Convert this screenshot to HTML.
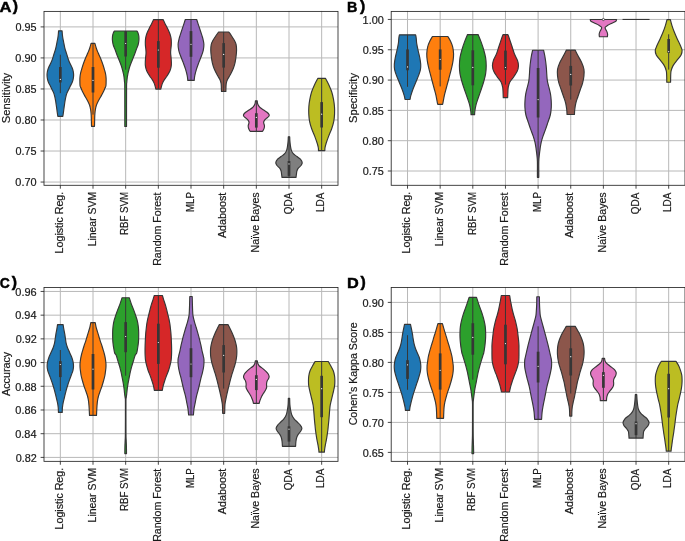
<!DOCTYPE html>
<html><head><meta charset="utf-8"><style>
html,body{margin:0;padding:0;background:#fff;overflow:hidden;}
svg{display:block;will-change:transform;}
text{font-family:"Liberation Sans", sans-serif;}
</style></head><body>
<svg width="685" height="541" viewBox="0 0 685 541">
<rect width="685" height="541" fill="#fff"/>
<line x1="44.0" y1="182.05" x2="338.0" y2="182.05" stroke="#b8b8b8" stroke-width="1.0"/>
<line x1="44.0" y1="151.02" x2="338.0" y2="151.02" stroke="#b8b8b8" stroke-width="1.0"/>
<line x1="44.0" y1="119.99" x2="338.0" y2="119.99" stroke="#b8b8b8" stroke-width="1.0"/>
<line x1="44.0" y1="88.96" x2="338.0" y2="88.96" stroke="#b8b8b8" stroke-width="1.0"/>
<line x1="44.0" y1="57.93" x2="338.0" y2="57.93" stroke="#b8b8b8" stroke-width="1.0"/>
<line x1="44.0" y1="26.90" x2="338.0" y2="26.90" stroke="#b8b8b8" stroke-width="1.0"/>
<line x1="60.33" y1="10.9" x2="60.33" y2="185.8" stroke="#b8b8b8" stroke-width="1.0"/>
<line x1="93.00" y1="10.9" x2="93.00" y2="185.8" stroke="#b8b8b8" stroke-width="1.0"/>
<line x1="125.67" y1="10.9" x2="125.67" y2="185.8" stroke="#b8b8b8" stroke-width="1.0"/>
<line x1="158.33" y1="10.9" x2="158.33" y2="185.8" stroke="#b8b8b8" stroke-width="1.0"/>
<line x1="191.00" y1="10.9" x2="191.00" y2="185.8" stroke="#b8b8b8" stroke-width="1.0"/>
<line x1="223.67" y1="10.9" x2="223.67" y2="185.8" stroke="#b8b8b8" stroke-width="1.0"/>
<line x1="256.33" y1="10.9" x2="256.33" y2="185.8" stroke="#b8b8b8" stroke-width="1.0"/>
<line x1="289.00" y1="10.9" x2="289.00" y2="185.8" stroke="#b8b8b8" stroke-width="1.0"/>
<line x1="321.67" y1="10.9" x2="321.67" y2="185.8" stroke="#b8b8b8" stroke-width="1.0"/>
<path d="M62.08,30.80 C62.14,31.50 62.29,33.72 62.43,35.00 C62.57,36.28 62.73,37.33 62.93,38.50 C63.13,39.67 63.40,40.82 63.63,42.00 C63.87,43.18 64.08,44.42 64.33,45.60 C64.58,46.78 64.82,47.93 65.13,49.10 C65.45,50.27 65.87,51.43 66.23,52.60 C66.60,53.77 66.97,54.93 67.33,56.10 C67.70,57.27 68.02,58.43 68.43,59.60 C68.85,60.77 69.22,61.75 69.83,63.10 C70.45,64.45 71.57,66.32 72.13,67.70 C72.70,69.08 72.98,70.17 73.23,71.40 C73.48,72.63 73.63,73.87 73.63,75.10 C73.63,76.33 73.48,77.57 73.23,78.80 C72.98,80.03 72.63,81.27 72.13,82.50 C71.63,83.73 70.85,84.97 70.23,86.20 C69.62,87.43 69.02,88.67 68.43,89.90 C67.85,91.13 67.18,92.37 66.73,93.60 C66.28,94.83 66.02,96.07 65.73,97.30 C65.45,98.53 65.23,99.80 65.03,101.00 C64.83,102.20 64.68,103.48 64.53,104.50 C64.38,105.52 64.28,106.05 64.13,107.10 C63.98,108.15 63.80,109.57 63.63,110.80 C63.47,112.03 63.27,113.58 63.13,114.50 C63.00,115.42 62.88,116.00 62.83,116.30 L57.83,116.30 C57.78,116.00 57.67,115.42 57.53,114.50 C57.40,113.58 57.20,112.03 57.03,110.80 C56.87,109.57 56.68,108.15 56.53,107.10 C56.38,106.05 56.28,105.52 56.13,104.50 C55.98,103.48 55.83,102.20 55.63,101.00 C55.43,99.80 55.22,98.53 54.93,97.30 C54.65,96.07 54.38,94.83 53.93,93.60 C53.48,92.37 52.82,91.13 52.23,89.90 C51.65,88.67 51.05,87.43 50.43,86.20 C49.82,84.97 49.03,83.73 48.53,82.50 C48.03,81.27 47.68,80.03 47.43,78.80 C47.18,77.57 47.03,76.33 47.03,75.10 C47.03,73.87 47.18,72.63 47.43,71.40 C47.68,70.17 47.97,69.08 48.53,67.70 C49.10,66.32 50.22,64.45 50.83,63.10 C51.45,61.75 51.82,60.77 52.23,59.60 C52.65,58.43 52.97,57.27 53.33,56.10 C53.70,54.93 54.07,53.77 54.43,52.60 C54.80,51.43 55.22,50.27 55.53,49.10 C55.85,47.93 56.08,46.78 56.33,45.60 C56.58,44.42 56.80,43.18 57.03,42.00 C57.27,40.82 57.53,39.67 57.73,38.50 C57.93,37.33 58.09,36.28 58.23,35.00 C58.37,33.72 58.52,31.50 58.58,30.80 Z" fill="#1f77b4" stroke="#363636" stroke-width="1.15" stroke-linejoin="round"/>
<line x1="60.33" y1="54.70" x2="60.33" y2="93.20" stroke="#363636" stroke-width="1.0"/>
<line x1="60.33" y1="67.00" x2="60.33" y2="82.50" stroke="#363636" stroke-width="2.7"/>
<circle cx="60.33" cy="79.40" r="0.6" fill="#fff"/>
<path d="M94.90,43.40 C95.15,44.25 95.87,46.93 96.40,48.50 C96.93,50.07 97.50,51.38 98.10,52.80 C98.70,54.22 99.40,55.58 100.00,57.00 C100.60,58.42 101.17,59.88 101.70,61.30 C102.23,62.72 102.73,64.08 103.20,65.50 C103.67,66.92 104.10,68.38 104.50,69.80 C104.90,71.22 105.33,72.58 105.60,74.00 C105.87,75.42 106.02,76.88 106.10,78.30 C106.18,79.72 106.13,81.22 106.10,82.50 C106.07,83.78 106.10,85.03 105.90,86.00 C105.70,86.97 105.38,87.22 104.90,88.30 C104.42,89.38 103.70,91.08 103.00,92.50 C102.30,93.92 101.48,95.38 100.70,96.80 C99.92,98.22 99.02,99.58 98.30,101.00 C97.58,102.42 96.88,103.88 96.40,105.30 C95.92,106.72 95.65,108.08 95.40,109.50 C95.15,110.92 95.02,112.38 94.90,113.80 C94.78,115.22 94.75,116.58 94.70,118.00 C94.65,119.42 94.63,120.92 94.60,122.30 C94.57,123.68 94.52,125.63 94.50,126.30 L91.50,126.30 C91.48,125.63 91.43,123.68 91.40,122.30 C91.37,120.92 91.35,119.42 91.30,118.00 C91.25,116.58 91.22,115.22 91.10,113.80 C90.98,112.38 90.85,110.92 90.60,109.50 C90.35,108.08 90.08,106.72 89.60,105.30 C89.12,103.88 88.42,102.42 87.70,101.00 C86.98,99.58 86.08,98.22 85.30,96.80 C84.52,95.38 83.70,93.92 83.00,92.50 C82.30,91.08 81.58,89.38 81.10,88.30 C80.62,87.22 80.30,86.97 80.10,86.00 C79.90,85.03 79.93,83.78 79.90,82.50 C79.87,81.22 79.82,79.72 79.90,78.30 C79.98,76.88 80.13,75.42 80.40,74.00 C80.67,72.58 81.10,71.22 81.50,69.80 C81.90,68.38 82.33,66.92 82.80,65.50 C83.27,64.08 83.77,62.72 84.30,61.30 C84.83,59.88 85.40,58.42 86.00,57.00 C86.60,55.58 87.30,54.22 87.90,52.80 C88.50,51.38 89.07,50.07 89.60,48.50 C90.13,46.93 90.85,44.25 91.10,43.40 Z" fill="#ff7f0e" stroke="#363636" stroke-width="1.15" stroke-linejoin="round"/>
<line x1="93.00" y1="43.40" x2="93.00" y2="114.60" stroke="#363636" stroke-width="1.0"/>
<line x1="93.00" y1="67.00" x2="93.00" y2="92.50" stroke="#363636" stroke-width="2.7"/>
<circle cx="93.00" cy="80.40" r="0.6" fill="#fff"/>
<path d="M136.97,31.00 C137.15,31.35 137.75,32.18 138.07,33.10 C138.38,34.02 138.73,35.22 138.87,36.50 C139.00,37.78 139.00,39.38 138.87,40.80 C138.73,42.22 138.48,43.58 138.07,45.00 C137.65,46.42 136.90,47.88 136.37,49.30 C135.83,50.72 135.40,52.08 134.87,53.50 C134.33,54.92 133.73,56.38 133.17,57.80 C132.60,59.22 132.02,60.58 131.47,62.00 C130.92,63.42 130.33,64.88 129.87,66.30 C129.40,67.72 129.00,69.22 128.67,70.50 C128.33,71.78 128.10,72.85 127.87,74.00 C127.63,75.15 127.45,75.95 127.27,77.40 C127.08,78.85 126.88,80.93 126.77,82.70 C126.65,84.47 126.61,80.70 126.57,88.00 C126.53,95.30 126.53,120.08 126.52,126.50 L124.82,126.50 C124.81,120.08 124.81,95.30 124.77,88.00 C124.72,80.70 124.68,84.47 124.57,82.70 C124.45,80.93 124.25,78.85 124.07,77.40 C123.88,75.95 123.70,75.15 123.47,74.00 C123.23,72.85 123.00,71.78 122.67,70.50 C122.33,69.22 121.93,67.72 121.47,66.30 C121.00,64.88 120.42,63.42 119.87,62.00 C119.32,60.58 118.73,59.22 118.17,57.80 C117.60,56.38 117.00,54.92 116.47,53.50 C115.93,52.08 115.50,50.72 114.97,49.30 C114.43,47.88 113.68,46.42 113.27,45.00 C112.85,43.58 112.60,42.22 112.47,40.80 C112.33,39.38 112.33,37.78 112.47,36.50 C112.60,35.22 112.95,34.02 113.27,33.10 C113.58,32.18 114.18,31.35 114.37,31.00 Z" fill="#2ca02c" stroke="#363636" stroke-width="1.15" stroke-linejoin="round"/>
<line x1="125.67" y1="31.00" x2="125.67" y2="69.70" stroke="#363636" stroke-width="1.0"/>
<line x1="125.67" y1="31.20" x2="125.67" y2="56.50" stroke="#363636" stroke-width="2.7"/>
<circle cx="125.67" cy="43.50" r="0.6" fill="#fff"/>
<path d="M163.08,19.55 C163.39,20.19 164.31,22.14 164.93,23.40 C165.56,24.66 166.22,25.87 166.83,27.10 C167.45,28.33 168.08,29.57 168.63,30.80 C169.18,32.03 169.73,33.27 170.13,34.50 C170.53,35.73 170.83,36.97 171.03,38.20 C171.23,39.43 171.30,40.67 171.33,41.90 C171.37,43.13 171.32,44.37 171.23,45.60 C171.15,46.83 170.93,48.07 170.83,49.30 C170.73,50.53 170.59,51.60 170.63,53.00 C170.67,54.40 170.97,56.30 171.08,57.70 C171.20,59.10 171.29,60.17 171.33,61.40 C171.37,62.63 171.45,63.87 171.33,65.10 C171.22,66.33 171.00,67.57 170.63,68.80 C170.27,70.03 169.77,71.27 169.13,72.50 C168.50,73.73 167.65,74.97 166.83,76.20 C166.02,77.43 164.98,78.67 164.23,79.90 C163.48,81.13 162.83,82.37 162.33,83.60 C161.83,84.83 161.48,86.38 161.23,87.30 C160.98,88.22 160.90,88.80 160.83,89.10 L155.83,89.10 C155.77,88.80 155.68,88.22 155.43,87.30 C155.18,86.38 154.83,84.83 154.33,83.60 C153.83,82.37 153.18,81.13 152.43,79.90 C151.68,78.67 150.65,77.43 149.83,76.20 C149.02,74.97 148.17,73.73 147.53,72.50 C146.90,71.27 146.40,70.03 146.03,68.80 C145.67,67.57 145.45,66.33 145.33,65.10 C145.22,63.87 145.29,62.63 145.33,61.40 C145.37,60.17 145.47,59.10 145.58,57.70 C145.70,56.30 145.99,54.40 146.03,53.00 C146.07,51.60 145.93,50.53 145.83,49.30 C145.73,48.07 145.52,46.83 145.43,45.60 C145.35,44.37 145.30,43.13 145.33,41.90 C145.37,40.67 145.43,39.43 145.63,38.20 C145.83,36.97 146.13,35.73 146.53,34.50 C146.93,33.27 147.48,32.03 148.03,30.80 C148.58,29.57 149.22,28.33 149.83,27.10 C150.45,25.87 151.11,24.66 151.73,23.40 C152.36,22.14 153.27,20.19 153.58,19.55 Z" fill="#d62728" stroke="#363636" stroke-width="1.15" stroke-linejoin="round"/>
<line x1="158.33" y1="19.55" x2="158.33" y2="89.10" stroke="#363636" stroke-width="1.0"/>
<line x1="158.33" y1="41.10" x2="158.33" y2="67.70" stroke="#363636" stroke-width="2.7"/>
<circle cx="158.33" cy="50.00" r="0.6" fill="#fff"/>
<path d="M196.70,19.50 C197.02,20.48 197.93,23.37 198.60,25.40 C199.27,27.43 200.02,29.60 200.70,31.70 C201.38,33.80 202.17,35.90 202.70,38.00 C203.23,40.10 203.82,42.20 203.90,44.30 C203.98,46.40 203.67,48.52 203.20,50.60 C202.73,52.68 201.87,54.72 201.10,56.80 C200.33,58.88 199.38,61.00 198.60,63.10 C197.82,65.20 197.03,67.30 196.40,69.40 C195.77,71.50 195.17,73.87 194.80,75.70 C194.43,77.53 194.30,79.62 194.20,80.40 L187.80,80.40 C187.70,79.62 187.57,77.53 187.20,75.70 C186.83,73.87 186.23,71.50 185.60,69.40 C184.97,67.30 184.18,65.20 183.40,63.10 C182.62,61.00 181.67,58.88 180.90,56.80 C180.13,54.72 179.27,52.68 178.80,50.60 C178.33,48.52 178.02,46.40 178.10,44.30 C178.18,42.20 178.77,40.10 179.30,38.00 C179.83,35.90 180.62,33.80 181.30,31.70 C181.98,29.60 182.73,27.43 183.40,25.40 C184.07,23.37 184.98,20.48 185.30,19.50 Z" fill="#9467bd" stroke="#363636" stroke-width="1.15" stroke-linejoin="round"/>
<line x1="191.00" y1="19.50" x2="191.00" y2="80.20" stroke="#363636" stroke-width="1.0"/>
<line x1="191.00" y1="31.10" x2="191.00" y2="56.80" stroke="#363636" stroke-width="2.7"/>
<circle cx="191.00" cy="44.30" r="0.6" fill="#fff"/>
<path d="M228.77,32.00 C229.18,32.58 230.32,34.07 231.27,35.50 C232.22,36.93 233.67,39.13 234.47,40.60 C235.27,42.07 235.72,42.73 236.07,44.30 C236.42,45.87 236.57,48.00 236.57,50.00 C236.57,52.00 236.32,54.20 236.07,56.30 C235.82,58.40 235.55,60.52 235.07,62.60 C234.58,64.68 234.00,66.72 233.17,68.80 C232.33,70.88 231.02,73.32 230.07,75.10 C229.12,76.88 228.10,78.13 227.47,79.50 C226.83,80.87 226.52,81.93 226.27,83.30 C226.02,84.67 226.03,86.33 225.97,87.70 C225.90,89.07 225.88,90.87 225.87,91.50 L221.47,91.50 C221.45,90.87 221.43,89.07 221.37,87.70 C221.30,86.33 221.32,84.67 221.07,83.30 C220.82,81.93 220.50,80.87 219.87,79.50 C219.23,78.13 218.22,76.88 217.27,75.10 C216.32,73.32 215.00,70.88 214.17,68.80 C213.33,66.72 212.75,64.68 212.27,62.60 C211.78,60.52 211.52,58.40 211.27,56.30 C211.02,54.20 210.77,52.00 210.77,50.00 C210.77,48.00 210.92,45.87 211.27,44.30 C211.62,42.73 212.07,42.07 212.87,40.60 C213.67,39.13 215.12,36.93 216.07,35.50 C217.02,34.07 218.15,32.58 218.57,32.00 Z" fill="#8c564b" stroke="#363636" stroke-width="1.15" stroke-linejoin="round"/>
<line x1="223.67" y1="32.00" x2="223.67" y2="91.50" stroke="#363636" stroke-width="1.0"/>
<line x1="223.67" y1="43.10" x2="223.67" y2="67.60" stroke="#363636" stroke-width="2.7"/>
<circle cx="223.67" cy="54.40" r="0.6" fill="#fff"/>
<path d="M257.23,100.80 C257.28,101.23 257.32,102.60 257.53,103.40 C257.75,104.20 258.07,104.87 258.53,105.60 C259.00,106.33 259.48,107.07 260.33,107.80 C261.18,108.53 262.52,109.25 263.63,110.00 C264.75,110.75 266.13,111.55 267.03,112.30 C267.93,113.05 268.73,113.83 269.03,114.50 C269.33,115.17 269.23,115.68 268.83,116.30 C268.43,116.92 267.37,117.52 266.63,118.20 C265.90,118.88 264.93,119.67 264.43,120.40 C263.93,121.13 263.63,121.73 263.63,122.60 C263.63,123.47 264.33,124.73 264.43,125.60 C264.53,126.47 264.42,127.07 264.23,127.80 C264.05,128.53 263.62,129.42 263.33,130.00 C263.05,130.58 262.67,131.08 262.53,131.30 L250.13,131.30 C250.00,131.08 249.62,130.58 249.33,130.00 C249.05,129.42 248.62,128.53 248.43,127.80 C248.25,127.07 248.13,126.47 248.23,125.60 C248.33,124.73 249.03,123.47 249.03,122.60 C249.03,121.73 248.73,121.13 248.23,120.40 C247.73,119.67 246.77,118.88 246.03,118.20 C245.30,117.52 244.23,116.92 243.83,116.30 C243.43,115.68 243.33,115.17 243.63,114.50 C243.93,113.83 244.73,113.05 245.63,112.30 C246.53,111.55 247.92,110.75 249.03,110.00 C250.15,109.25 251.48,108.53 252.33,107.80 C253.18,107.07 253.67,106.33 254.13,105.60 C254.60,104.87 254.92,104.20 255.13,103.40 C255.35,102.60 255.38,101.23 255.43,100.80 Z" fill="#e377c2" stroke="#363636" stroke-width="1.15" stroke-linejoin="round"/>
<line x1="256.33" y1="100.80" x2="256.33" y2="131.10" stroke="#363636" stroke-width="1.0"/>
<line x1="256.33" y1="113.20" x2="256.33" y2="127.60" stroke="#363636" stroke-width="2.7"/>
<circle cx="256.33" cy="117.40" r="0.6" fill="#fff"/>
<path d="M289.70,136.70 C289.73,137.43 289.78,139.62 289.90,141.10 C290.02,142.58 290.17,144.10 290.40,145.60 C290.63,147.10 290.82,148.75 291.30,150.10 C291.78,151.45 292.37,152.63 293.30,153.70 C294.23,154.77 295.72,155.58 296.90,156.50 C298.08,157.42 299.52,158.15 300.40,159.20 C301.28,160.25 302.10,161.75 302.20,162.80 C302.30,163.85 301.65,164.60 301.00,165.50 C300.35,166.40 298.98,167.28 298.30,168.20 C297.62,169.12 297.20,170.08 296.90,171.00 C296.60,171.92 296.65,172.65 296.50,173.70 C296.35,174.75 296.08,176.70 296.00,177.30 L282.00,177.30 C281.92,176.70 281.65,174.75 281.50,173.70 C281.35,172.65 281.40,171.92 281.10,171.00 C280.80,170.08 280.38,169.12 279.70,168.20 C279.02,167.28 277.65,166.40 277.00,165.50 C276.35,164.60 275.70,163.85 275.80,162.80 C275.90,161.75 276.72,160.25 277.60,159.20 C278.48,158.15 279.92,157.42 281.10,156.50 C282.28,155.58 283.77,154.77 284.70,153.70 C285.63,152.63 286.22,151.45 286.70,150.10 C287.18,148.75 287.37,147.10 287.60,145.60 C287.83,144.10 287.98,142.58 288.10,141.10 C288.22,139.62 288.27,137.43 288.30,136.70 Z" fill="#7f7f7f" stroke="#363636" stroke-width="1.15" stroke-linejoin="round"/>
<line x1="289.00" y1="136.70" x2="289.00" y2="177.30" stroke="#363636" stroke-width="1.0"/>
<line x1="289.00" y1="161.00" x2="289.00" y2="175.90" stroke="#363636" stroke-width="2.7"/>
<circle cx="289.00" cy="163.90" r="0.6" fill="#fff"/>
<path d="M325.57,78.40 C326.08,79.40 327.65,82.18 328.67,84.40 C329.68,86.62 330.87,89.25 331.67,91.70 C332.47,94.15 333.00,96.63 333.47,99.10 C333.93,101.57 334.28,104.03 334.47,106.50 C334.65,108.97 334.68,111.43 334.57,113.90 C334.45,116.37 334.25,118.83 333.77,121.30 C333.28,123.77 332.52,126.23 331.67,128.70 C330.82,131.17 329.60,133.63 328.67,136.10 C327.73,138.57 326.68,141.52 326.07,143.50 C325.45,145.48 325.17,146.82 324.97,148.00 C324.77,149.18 324.88,150.17 324.87,150.60 L318.47,150.60 C318.45,150.17 318.57,149.18 318.37,148.00 C318.17,146.82 317.88,145.48 317.27,143.50 C316.65,141.52 315.60,138.57 314.67,136.10 C313.73,133.63 312.52,131.17 311.67,128.70 C310.82,126.23 310.05,123.77 309.57,121.30 C309.08,118.83 308.88,116.37 308.77,113.90 C308.65,111.43 308.68,108.97 308.87,106.50 C309.05,104.03 309.40,101.57 309.87,99.10 C310.33,96.63 310.87,94.15 311.67,91.70 C312.47,89.25 313.65,86.62 314.67,84.40 C315.68,82.18 317.25,79.40 317.77,78.40 Z" fill="#bcbd22" stroke="#363636" stroke-width="1.15" stroke-linejoin="round"/>
<line x1="321.67" y1="78.40" x2="321.67" y2="150.60" stroke="#363636" stroke-width="1.0"/>
<line x1="321.67" y1="102.10" x2="321.67" y2="127.50" stroke="#363636" stroke-width="2.7"/>
<circle cx="321.67" cy="114.20" r="0.6" fill="#fff"/>
<rect x="44.0" y="11.4" width="294.0" height="173.9" fill="none" stroke="#262626" stroke-width="0.85"/>
<line x1="40.60" y1="182.05" x2="44.0" y2="182.05" stroke="#262626" stroke-width="0.85"/>
<text x="15.35" y="186.00" font-size="10.33" textLength="21.27" lengthAdjust="spacingAndGlyphs" fill="#1a1a1a" stroke="#1a1a1a" stroke-width="0.2">0.70</text>
<line x1="40.60" y1="151.02" x2="44.0" y2="151.02" stroke="#262626" stroke-width="0.85"/>
<text x="15.56" y="155.00" font-size="10.33" textLength="21.09" lengthAdjust="spacingAndGlyphs" fill="#1a1a1a" stroke="#1a1a1a" stroke-width="0.2">0.75</text>
<line x1="40.60" y1="119.99" x2="44.0" y2="119.99" stroke="#262626" stroke-width="0.85"/>
<text x="15.35" y="124.00" font-size="10.33" textLength="21.27" lengthAdjust="spacingAndGlyphs" fill="#1a1a1a" stroke="#1a1a1a" stroke-width="0.2">0.80</text>
<line x1="40.60" y1="88.96" x2="44.0" y2="88.96" stroke="#262626" stroke-width="0.85"/>
<text x="15.56" y="93.00" font-size="10.33" textLength="21.09" lengthAdjust="spacingAndGlyphs" fill="#1a1a1a" stroke="#1a1a1a" stroke-width="0.2">0.85</text>
<line x1="40.60" y1="57.93" x2="44.0" y2="57.93" stroke="#262626" stroke-width="0.85"/>
<text x="15.35" y="62.00" font-size="10.33" textLength="21.27" lengthAdjust="spacingAndGlyphs" fill="#1a1a1a" stroke="#1a1a1a" stroke-width="0.2">0.90</text>
<line x1="40.60" y1="26.90" x2="44.0" y2="26.90" stroke="#262626" stroke-width="0.85"/>
<text x="15.56" y="31.00" font-size="10.33" textLength="21.09" lengthAdjust="spacingAndGlyphs" fill="#1a1a1a" stroke="#1a1a1a" stroke-width="0.2">0.95</text>
<line x1="60.33" y1="185.3" x2="60.33" y2="188.70" stroke="#262626" stroke-width="0.85"/>
<text x="63.03" y="253.38" font-size="10.33" textLength="61.65" lengthAdjust="spacingAndGlyphs" fill="#1a1a1a" stroke="#1a1a1a" stroke-width="0.2" transform="rotate(-90 63.03 253.38)">Logistic Reg.</text>
<line x1="93.00" y1="185.3" x2="93.00" y2="188.70" stroke="#262626" stroke-width="0.85"/>
<text x="95.70" y="246.33" font-size="10.33" textLength="54.48" lengthAdjust="spacingAndGlyphs" fill="#1a1a1a" stroke="#1a1a1a" stroke-width="0.2" transform="rotate(-90 95.70 246.33)">Linear SVM</text>
<line x1="125.67" y1="185.3" x2="125.67" y2="188.70" stroke="#262626" stroke-width="0.85"/>
<text x="128.37" y="235.04" font-size="10.33" textLength="43.13" lengthAdjust="spacingAndGlyphs" fill="#1a1a1a" stroke="#1a1a1a" stroke-width="0.2" transform="rotate(-90 128.37 235.04)">RBF SVM</text>
<line x1="158.33" y1="185.3" x2="158.33" y2="188.70" stroke="#262626" stroke-width="0.85"/>
<text x="161.03" y="265.78" font-size="10.33" textLength="73.15" lengthAdjust="spacingAndGlyphs" fill="#1a1a1a" stroke="#1a1a1a" stroke-width="0.2" transform="rotate(-90 161.03 265.78)">Random Forest</text>
<line x1="191.00" y1="185.3" x2="191.00" y2="188.70" stroke="#262626" stroke-width="0.85"/>
<text x="193.70" y="211.92" font-size="10.33" textLength="19.72" lengthAdjust="spacingAndGlyphs" fill="#1a1a1a" stroke="#1a1a1a" stroke-width="0.2" transform="rotate(-90 193.70 211.92)">MLP</text>
<line x1="223.67" y1="185.3" x2="223.67" y2="188.70" stroke="#262626" stroke-width="0.85"/>
<text x="226.37" y="238.11" font-size="10.33" textLength="45.48" lengthAdjust="spacingAndGlyphs" fill="#1a1a1a" stroke="#1a1a1a" stroke-width="0.2" transform="rotate(-90 226.37 238.11)">Adaboost</text>
<line x1="256.33" y1="185.3" x2="256.33" y2="188.70" stroke="#262626" stroke-width="0.85"/>
<text x="259.03" y="252.50" font-size="10.33" textLength="60.19" lengthAdjust="spacingAndGlyphs" fill="#1a1a1a" stroke="#1a1a1a" stroke-width="0.2" transform="rotate(-90 259.03 252.50)">Naïve Bayes</text>
<line x1="289.00" y1="185.3" x2="289.00" y2="188.70" stroke="#262626" stroke-width="0.85"/>
<text x="291.70" y="214.23" font-size="10.33" textLength="21.55" lengthAdjust="spacingAndGlyphs" fill="#1a1a1a" stroke="#1a1a1a" stroke-width="0.2" transform="rotate(-90 291.70 214.23)">QDA</text>
<line x1="321.67" y1="185.3" x2="321.67" y2="188.70" stroke="#262626" stroke-width="0.85"/>
<text x="324.37" y="211.92" font-size="10.33" textLength="19.24" lengthAdjust="spacingAndGlyphs" fill="#1a1a1a" stroke="#1a1a1a" stroke-width="0.2" transform="rotate(-90 324.37 211.92)">LDA</text>
<text x="9.60" y="123.17" font-size="10.33" textLength="50.36" lengthAdjust="spacingAndGlyphs" fill="#1a1a1a" stroke="#1a1a1a" stroke-width="0.2" transform="rotate(-90 9.60 123.17)">Sensitivity</text>
<text stroke="#000" stroke-width="0.45" x="-0.60" y="11.70" font-size="15.47" font-weight="bold" textLength="12.00" lengthAdjust="spacingAndGlyphs" fill="#000">A</text>
<text stroke="#000" stroke-width="0.45" x="12.68" y="10.90" font-size="15.47" font-weight="bold" textLength="5.27" lengthAdjust="spacingAndGlyphs" fill="#000">)</text>
<line x1="391.2" y1="171.00" x2="685.0" y2="171.00" stroke="#b8b8b8" stroke-width="1.0"/>
<line x1="391.2" y1="140.69" x2="685.0" y2="140.69" stroke="#b8b8b8" stroke-width="1.0"/>
<line x1="391.2" y1="110.38" x2="685.0" y2="110.38" stroke="#b8b8b8" stroke-width="1.0"/>
<line x1="391.2" y1="80.07" x2="685.0" y2="80.07" stroke="#b8b8b8" stroke-width="1.0"/>
<line x1="391.2" y1="49.76" x2="685.0" y2="49.76" stroke="#b8b8b8" stroke-width="1.0"/>
<line x1="391.2" y1="19.45" x2="685.0" y2="19.45" stroke="#b8b8b8" stroke-width="1.0"/>
<line x1="407.52" y1="10.9" x2="407.52" y2="185.8" stroke="#b8b8b8" stroke-width="1.0"/>
<line x1="440.17" y1="10.9" x2="440.17" y2="185.8" stroke="#b8b8b8" stroke-width="1.0"/>
<line x1="472.81" y1="10.9" x2="472.81" y2="185.8" stroke="#b8b8b8" stroke-width="1.0"/>
<line x1="505.46" y1="10.9" x2="505.46" y2="185.8" stroke="#b8b8b8" stroke-width="1.0"/>
<line x1="538.10" y1="10.9" x2="538.10" y2="185.8" stroke="#b8b8b8" stroke-width="1.0"/>
<line x1="570.74" y1="10.9" x2="570.74" y2="185.8" stroke="#b8b8b8" stroke-width="1.0"/>
<line x1="603.39" y1="10.9" x2="603.39" y2="185.8" stroke="#b8b8b8" stroke-width="1.0"/>
<line x1="636.03" y1="10.9" x2="636.03" y2="185.8" stroke="#b8b8b8" stroke-width="1.0"/>
<line x1="668.68" y1="10.9" x2="668.68" y2="185.8" stroke="#b8b8b8" stroke-width="1.0"/>
<path d="M415.62,34.80 C415.72,35.37 416.04,36.72 416.22,38.20 C416.41,39.68 416.41,41.65 416.72,43.70 C417.04,45.75 417.62,48.22 418.12,50.50 C418.62,52.78 419.29,55.12 419.72,57.40 C420.16,59.68 420.61,62.15 420.72,64.20 C420.84,66.25 420.76,67.88 420.42,69.70 C420.09,71.52 419.47,73.05 418.72,75.10 C417.97,77.15 416.86,79.72 415.92,82.00 C414.99,84.28 413.97,86.52 413.12,88.80 C412.27,91.08 411.34,93.92 410.82,95.70 C410.31,97.48 410.16,98.87 410.02,99.50 L405.02,99.50 C404.89,98.87 404.74,97.48 404.22,95.70 C403.71,93.92 402.77,91.08 401.92,88.80 C401.07,86.52 400.06,84.28 399.12,82.00 C398.19,79.72 397.07,77.15 396.32,75.10 C395.57,73.05 394.96,71.52 394.62,69.70 C394.29,67.88 394.21,66.25 394.32,64.20 C394.44,62.15 394.89,59.68 395.32,57.40 C395.76,55.12 396.42,52.78 396.92,50.50 C397.42,48.22 398.01,45.75 398.32,43.70 C398.64,41.65 398.64,39.68 398.82,38.20 C399.01,36.72 399.32,35.37 399.42,34.80 Z" fill="#1f77b4" stroke="#363636" stroke-width="1.15" stroke-linejoin="round"/>
<line x1="407.52" y1="34.80" x2="407.52" y2="86.80" stroke="#363636" stroke-width="1.0"/>
<line x1="407.52" y1="49.40" x2="407.52" y2="70.30" stroke="#363636" stroke-width="2.7"/>
<circle cx="407.52" cy="66.90" r="0.6" fill="#fff"/>
<path d="M447.87,36.50 C448.32,37.30 449.77,39.57 450.57,41.30 C451.37,43.03 452.17,44.82 452.67,46.90 C453.17,48.98 453.50,51.50 453.57,53.80 C453.63,56.10 453.38,58.38 453.07,60.70 C452.75,63.02 452.20,65.38 451.67,67.70 C451.13,70.02 450.47,72.30 449.87,74.60 C449.27,76.90 448.68,79.18 448.07,81.50 C447.45,83.82 446.78,86.18 446.17,88.50 C445.55,90.82 444.88,93.10 444.37,95.40 C443.85,97.70 443.37,100.80 443.07,102.30 C442.77,103.80 442.65,104.05 442.57,104.40 L437.77,104.40 C437.68,104.05 437.57,103.80 437.27,102.30 C436.97,100.80 436.48,97.70 435.97,95.40 C435.45,93.10 434.78,90.82 434.17,88.50 C433.55,86.18 432.88,83.82 432.27,81.50 C431.65,79.18 431.07,76.90 430.47,74.60 C429.87,72.30 429.20,70.02 428.67,67.70 C428.13,65.38 427.58,63.02 427.27,60.70 C426.95,58.38 426.70,56.10 426.77,53.80 C426.83,51.50 427.17,48.98 427.67,46.90 C428.17,44.82 428.97,43.03 429.77,41.30 C430.57,39.57 432.02,37.30 432.47,36.50 Z" fill="#ff7f0e" stroke="#363636" stroke-width="1.15" stroke-linejoin="round"/>
<line x1="440.17" y1="36.50" x2="440.17" y2="86.40" stroke="#363636" stroke-width="1.0"/>
<line x1="440.17" y1="49.40" x2="440.17" y2="69.70" stroke="#363636" stroke-width="2.7"/>
<circle cx="440.17" cy="59.30" r="0.6" fill="#fff"/>
<path d="M478.11,34.55 C478.58,35.69 479.99,38.91 480.91,41.40 C481.83,43.89 482.83,46.78 483.61,49.50 C484.39,52.22 485.18,54.98 485.61,57.70 C486.04,60.42 486.21,63.10 486.21,65.80 C486.21,68.50 486.04,71.20 485.61,73.90 C485.18,76.60 484.39,79.28 483.61,82.00 C482.83,84.72 481.83,87.48 480.91,90.20 C479.99,92.92 478.93,95.87 478.11,98.30 C477.29,100.73 476.56,102.63 476.01,104.80 C475.46,106.97 475.04,109.67 474.81,111.30 C474.58,112.93 474.64,114.05 474.61,114.60 L471.01,114.60 C470.98,114.05 471.04,112.93 470.81,111.30 C470.58,109.67 470.16,106.97 469.61,104.80 C469.06,102.63 468.33,100.73 467.51,98.30 C466.69,95.87 465.63,92.92 464.71,90.20 C463.79,87.48 462.79,84.72 462.01,82.00 C461.23,79.28 460.44,76.60 460.01,73.90 C459.58,71.20 459.41,68.50 459.41,65.80 C459.41,63.10 459.58,60.42 460.01,57.70 C460.44,54.98 461.23,52.22 462.01,49.50 C462.79,46.78 463.79,43.89 464.71,41.40 C465.63,38.91 467.04,35.69 467.51,34.55 Z" fill="#2ca02c" stroke="#363636" stroke-width="1.15" stroke-linejoin="round"/>
<line x1="472.81" y1="34.55" x2="472.81" y2="114.60" stroke="#363636" stroke-width="1.0"/>
<line x1="472.81" y1="50.30" x2="472.81" y2="85.30" stroke="#363636" stroke-width="2.7"/>
<circle cx="472.81" cy="67.40" r="0.6" fill="#fff"/>
<path d="M507.96,34.66 C508.31,35.65 509.34,38.49 510.06,40.60 C510.77,42.71 511.52,45.07 512.26,47.30 C512.99,49.53 513.57,51.78 514.46,54.00 C515.34,56.22 516.89,58.62 517.56,60.60 C518.22,62.58 518.52,64.12 518.46,65.90 C518.39,67.68 517.92,69.52 517.16,71.30 C516.39,73.08 515.07,74.83 513.86,76.60 C512.64,78.37 510.79,80.13 509.86,81.90 C508.92,83.67 508.59,85.43 508.26,87.20 C507.92,88.97 507.96,90.77 507.86,92.50 C507.76,94.23 507.69,96.75 507.66,97.60 L503.26,97.60 C503.22,96.75 503.16,94.23 503.06,92.50 C502.96,90.77 502.99,88.97 502.66,87.20 C502.32,85.43 501.99,83.67 501.06,81.90 C500.12,80.13 498.27,78.37 497.06,76.60 C495.84,74.83 494.52,73.08 493.76,71.30 C492.99,69.52 492.52,67.68 492.46,65.90 C492.39,64.12 492.69,62.58 493.36,60.60 C494.02,58.62 495.57,56.22 496.46,54.00 C497.34,51.78 497.92,49.53 498.66,47.30 C499.39,45.07 500.14,42.71 500.86,40.60 C501.57,38.49 502.61,35.65 502.96,34.66 Z" fill="#d62728" stroke="#363636" stroke-width="1.15" stroke-linejoin="round"/>
<line x1="505.46" y1="34.66" x2="505.46" y2="84.60" stroke="#363636" stroke-width="1.0"/>
<line x1="505.46" y1="50.60" x2="505.46" y2="69.90" stroke="#363636" stroke-width="2.7"/>
<circle cx="505.46" cy="67.50" r="0.6" fill="#fff"/>
<path d="M543.60,50.20 C543.78,51.07 544.35,53.47 544.70,55.40 C545.05,57.33 545.42,59.65 545.70,61.80 C545.98,63.95 546.22,66.13 546.40,68.30 C546.58,70.47 546.63,72.65 546.80,74.80 C546.97,76.95 547.03,79.05 547.40,81.20 C547.77,83.35 548.48,85.53 549.00,87.70 C549.52,89.87 550.13,92.05 550.50,94.20 C550.87,96.35 551.07,98.45 551.20,100.60 C551.33,102.75 551.45,104.70 551.30,107.10 C551.15,109.50 550.90,112.37 550.30,115.00 C549.70,117.63 548.50,120.50 547.70,122.90 C546.90,125.30 546.27,127.23 545.50,129.40 C544.73,131.57 543.82,133.75 543.10,135.90 C542.38,138.05 541.70,140.15 541.20,142.30 C540.70,144.45 540.42,146.63 540.10,148.80 C539.78,150.97 539.52,153.13 539.30,155.30 C539.08,157.47 538.88,158.13 538.80,161.80 C538.72,165.47 538.80,174.72 538.80,177.30 L537.40,177.30 C537.40,174.72 537.48,165.47 537.40,161.80 C537.32,158.13 537.12,157.47 536.90,155.30 C536.68,153.13 536.42,150.97 536.10,148.80 C535.78,146.63 535.50,144.45 535.00,142.30 C534.50,140.15 533.82,138.05 533.10,135.90 C532.38,133.75 531.47,131.57 530.70,129.40 C529.93,127.23 529.30,125.30 528.50,122.90 C527.70,120.50 526.50,117.63 525.90,115.00 C525.30,112.37 525.05,109.50 524.90,107.10 C524.75,104.70 524.87,102.75 525.00,100.60 C525.13,98.45 525.33,96.35 525.70,94.20 C526.07,92.05 526.68,89.87 527.20,87.70 C527.72,85.53 528.43,83.35 528.80,81.20 C529.17,79.05 529.23,76.95 529.40,74.80 C529.57,72.65 529.62,70.47 529.80,68.30 C529.98,66.13 530.22,63.95 530.50,61.80 C530.78,59.65 531.15,57.33 531.50,55.40 C531.85,53.47 532.42,51.07 532.60,50.20 Z" fill="#9467bd" stroke="#363636" stroke-width="1.15" stroke-linejoin="round"/>
<line x1="538.10" y1="50.20" x2="538.10" y2="177.30" stroke="#363636" stroke-width="1.0"/>
<line x1="538.10" y1="68.00" x2="538.10" y2="117.50" stroke="#363636" stroke-width="2.7"/>
<circle cx="538.10" cy="99.60" r="0.6" fill="#fff"/>
<path d="M575.14,50.10 C575.63,51.05 576.96,53.73 578.04,55.80 C579.13,57.87 580.66,60.25 581.64,62.50 C582.63,64.75 583.56,67.05 583.94,69.30 C584.33,71.55 584.16,73.75 583.94,76.00 C583.73,78.25 583.24,80.55 582.64,82.80 C582.04,85.05 581.11,87.25 580.34,89.50 C579.58,91.75 578.79,94.05 578.04,96.30 C577.29,98.55 576.39,100.75 575.84,103.00 C575.29,105.25 574.98,107.88 574.74,109.80 C574.51,111.72 574.49,113.72 574.44,114.50 L567.04,114.50 C566.99,113.72 566.98,111.72 566.74,109.80 C566.51,107.88 566.19,105.25 565.64,103.00 C565.09,100.75 564.19,98.55 563.44,96.30 C562.69,94.05 561.91,91.75 561.14,89.50 C560.38,87.25 559.44,85.05 558.84,82.80 C558.24,80.55 557.76,78.25 557.54,76.00 C557.33,73.75 557.16,71.55 557.54,69.30 C557.93,67.05 558.86,64.75 559.84,62.50 C560.83,60.25 562.36,57.87 563.44,55.80 C564.53,53.73 565.86,51.05 566.34,50.10 Z" fill="#8c564b" stroke="#363636" stroke-width="1.15" stroke-linejoin="round"/>
<line x1="570.74" y1="50.10" x2="570.74" y2="99.60" stroke="#363636" stroke-width="1.0"/>
<line x1="570.74" y1="65.90" x2="570.74" y2="85.50" stroke="#363636" stroke-width="2.7"/>
<circle cx="570.74" cy="74.40" r="0.6" fill="#fff"/>
<path d="M616.59,19.46 C616.47,19.75 616.67,20.58 615.89,21.20 C615.11,21.82 613.24,22.52 611.89,23.20 C610.54,23.88 608.91,24.62 607.79,25.30 C606.67,25.98 605.54,26.62 605.19,27.30 C604.84,27.98 605.42,28.72 605.69,29.40 C605.96,30.08 606.47,30.63 606.79,31.40 C607.11,32.17 607.49,33.12 607.59,34.00 C607.69,34.88 607.42,36.25 607.39,36.70 L599.39,36.70 C599.36,36.25 599.09,34.88 599.19,34.00 C599.29,33.12 599.67,32.17 599.99,31.40 C600.31,30.63 600.82,30.08 601.09,29.40 C601.36,28.72 601.94,27.98 601.59,27.30 C601.24,26.62 600.11,25.98 598.99,25.30 C597.87,24.62 596.24,23.88 594.89,23.20 C593.54,22.52 591.67,21.82 590.89,21.20 C590.11,20.58 590.31,19.75 590.19,19.46 Z" fill="#e377c2" stroke="#363636" stroke-width="1.15" stroke-linejoin="round"/>
<circle cx="603.39" cy="19.50" r="1.1" fill="#fff" stroke="#363636" stroke-width="0.8"/>
<line x1="622.53" y1="19.46" x2="649.53" y2="19.46" stroke="#363636" stroke-width="1.1"/>
<path d="M670.38,19.66 C670.64,20.65 671.31,23.49 671.98,25.60 C672.64,27.71 673.49,30.07 674.38,32.30 C675.26,34.53 676.28,36.78 677.28,39.00 C678.28,41.22 679.58,43.72 680.38,45.60 C681.18,47.48 681.96,48.75 682.08,50.30 C682.19,51.85 681.91,53.25 681.08,54.90 C680.24,56.55 678.41,58.42 677.08,60.20 C675.74,61.98 674.08,63.82 673.08,65.60 C672.08,67.38 671.48,69.13 671.08,70.90 C670.68,72.67 670.76,74.32 670.68,76.20 C670.59,78.08 670.59,81.20 670.58,82.20 L666.78,82.20 C666.76,81.20 666.76,78.08 666.68,76.20 C666.59,74.32 666.68,72.67 666.28,70.90 C665.88,69.13 665.28,67.38 664.28,65.60 C663.28,63.82 661.61,61.98 660.28,60.20 C658.94,58.42 657.11,56.55 656.28,54.90 C655.44,53.25 655.16,51.85 655.28,50.30 C655.39,48.75 656.18,47.48 656.98,45.60 C657.78,43.72 659.08,41.22 660.08,39.00 C661.08,36.78 662.09,34.53 662.98,32.30 C663.86,30.07 664.71,27.71 665.38,25.60 C666.04,23.49 666.71,20.65 666.98,19.66 Z" fill="#bcbd22" stroke="#363636" stroke-width="1.15" stroke-linejoin="round"/>
<line x1="668.68" y1="34.30" x2="668.68" y2="69.60" stroke="#363636" stroke-width="1.0"/>
<line x1="668.68" y1="39.00" x2="668.68" y2="52.90" stroke="#363636" stroke-width="2.7"/>
<circle cx="668.68" cy="51.60" r="0.6" fill="#fff"/>
<rect x="391.2" y="11.4" width="293.8" height="173.9" fill="none" stroke="#262626" stroke-width="0.85"/>
<line x1="387.80" y1="171.00" x2="391.2" y2="171.00" stroke="#262626" stroke-width="0.85"/>
<text x="362.76" y="175.00" font-size="10.33" textLength="21.09" lengthAdjust="spacingAndGlyphs" fill="#1a1a1a" stroke="#1a1a1a" stroke-width="0.2">0.75</text>
<line x1="387.80" y1="140.69" x2="391.2" y2="140.69" stroke="#262626" stroke-width="0.85"/>
<text x="362.55" y="145.00" font-size="10.33" textLength="21.27" lengthAdjust="spacingAndGlyphs" fill="#1a1a1a" stroke="#1a1a1a" stroke-width="0.2">0.80</text>
<line x1="387.80" y1="110.38" x2="391.2" y2="110.38" stroke="#262626" stroke-width="0.85"/>
<text x="362.76" y="115.00" font-size="10.33" textLength="21.09" lengthAdjust="spacingAndGlyphs" fill="#1a1a1a" stroke="#1a1a1a" stroke-width="0.2">0.85</text>
<line x1="387.80" y1="80.07" x2="391.2" y2="80.07" stroke="#262626" stroke-width="0.85"/>
<text x="362.55" y="84.00" font-size="10.33" textLength="21.27" lengthAdjust="spacingAndGlyphs" fill="#1a1a1a" stroke="#1a1a1a" stroke-width="0.2">0.90</text>
<line x1="387.80" y1="49.76" x2="391.2" y2="49.76" stroke="#262626" stroke-width="0.85"/>
<text x="362.76" y="54.00" font-size="10.33" textLength="21.09" lengthAdjust="spacingAndGlyphs" fill="#1a1a1a" stroke="#1a1a1a" stroke-width="0.2">0.95</text>
<line x1="387.80" y1="19.45" x2="391.2" y2="19.45" stroke="#262626" stroke-width="0.85"/>
<text x="362.57" y="24.00" font-size="10.33" textLength="21.24" lengthAdjust="spacingAndGlyphs" fill="#1a1a1a" stroke="#1a1a1a" stroke-width="0.2">1.00</text>
<line x1="407.52" y1="185.3" x2="407.52" y2="188.70" stroke="#262626" stroke-width="0.85"/>
<text x="410.22" y="253.38" font-size="10.33" textLength="61.65" lengthAdjust="spacingAndGlyphs" fill="#1a1a1a" stroke="#1a1a1a" stroke-width="0.2" transform="rotate(-90 410.22 253.38)">Logistic Reg.</text>
<line x1="440.17" y1="185.3" x2="440.17" y2="188.70" stroke="#262626" stroke-width="0.85"/>
<text x="442.87" y="246.33" font-size="10.33" textLength="54.48" lengthAdjust="spacingAndGlyphs" fill="#1a1a1a" stroke="#1a1a1a" stroke-width="0.2" transform="rotate(-90 442.87 246.33)">Linear SVM</text>
<line x1="472.81" y1="185.3" x2="472.81" y2="188.70" stroke="#262626" stroke-width="0.85"/>
<text x="475.51" y="235.04" font-size="10.33" textLength="43.13" lengthAdjust="spacingAndGlyphs" fill="#1a1a1a" stroke="#1a1a1a" stroke-width="0.2" transform="rotate(-90 475.51 235.04)">RBF SVM</text>
<line x1="505.46" y1="185.3" x2="505.46" y2="188.70" stroke="#262626" stroke-width="0.85"/>
<text x="508.16" y="265.78" font-size="10.33" textLength="73.15" lengthAdjust="spacingAndGlyphs" fill="#1a1a1a" stroke="#1a1a1a" stroke-width="0.2" transform="rotate(-90 508.16 265.78)">Random Forest</text>
<line x1="538.10" y1="185.3" x2="538.10" y2="188.70" stroke="#262626" stroke-width="0.85"/>
<text x="540.80" y="211.92" font-size="10.33" textLength="19.72" lengthAdjust="spacingAndGlyphs" fill="#1a1a1a" stroke="#1a1a1a" stroke-width="0.2" transform="rotate(-90 540.80 211.92)">MLP</text>
<line x1="570.74" y1="185.3" x2="570.74" y2="188.70" stroke="#262626" stroke-width="0.85"/>
<text x="573.44" y="238.11" font-size="10.33" textLength="45.48" lengthAdjust="spacingAndGlyphs" fill="#1a1a1a" stroke="#1a1a1a" stroke-width="0.2" transform="rotate(-90 573.44 238.11)">Adaboost</text>
<line x1="603.39" y1="185.3" x2="603.39" y2="188.70" stroke="#262626" stroke-width="0.85"/>
<text x="606.09" y="252.50" font-size="10.33" textLength="60.19" lengthAdjust="spacingAndGlyphs" fill="#1a1a1a" stroke="#1a1a1a" stroke-width="0.2" transform="rotate(-90 606.09 252.50)">Naïve Bayes</text>
<line x1="636.03" y1="185.3" x2="636.03" y2="188.70" stroke="#262626" stroke-width="0.85"/>
<text x="638.73" y="214.23" font-size="10.33" textLength="21.55" lengthAdjust="spacingAndGlyphs" fill="#1a1a1a" stroke="#1a1a1a" stroke-width="0.2" transform="rotate(-90 638.73 214.23)">QDA</text>
<line x1="668.68" y1="185.3" x2="668.68" y2="188.70" stroke="#262626" stroke-width="0.85"/>
<text x="671.38" y="211.92" font-size="10.33" textLength="19.24" lengthAdjust="spacingAndGlyphs" fill="#1a1a1a" stroke="#1a1a1a" stroke-width="0.2" transform="rotate(-90 671.38 211.92)">LDA</text>
<text x="356.80" y="122.91" font-size="10.33" textLength="49.85" lengthAdjust="spacingAndGlyphs" fill="#1a1a1a" stroke="#1a1a1a" stroke-width="0.2" transform="rotate(-90 356.80 122.91)">Specificity</text>
<text stroke="#000" stroke-width="0.45" x="347.05" y="11.70" font-size="15.47" font-weight="bold" textLength="10.37" lengthAdjust="spacingAndGlyphs" fill="#000">B</text>
<text stroke="#000" stroke-width="0.45" x="359.98" y="10.90" font-size="15.47" font-weight="bold" textLength="5.27" lengthAdjust="spacingAndGlyphs" fill="#000">)</text>
<line x1="44.0" y1="457.40" x2="338.0" y2="457.40" stroke="#b8b8b8" stroke-width="1.0"/>
<line x1="44.0" y1="433.69" x2="338.0" y2="433.69" stroke="#b8b8b8" stroke-width="1.0"/>
<line x1="44.0" y1="409.99" x2="338.0" y2="409.99" stroke="#b8b8b8" stroke-width="1.0"/>
<line x1="44.0" y1="386.28" x2="338.0" y2="386.28" stroke="#b8b8b8" stroke-width="1.0"/>
<line x1="44.0" y1="362.57" x2="338.0" y2="362.57" stroke="#b8b8b8" stroke-width="1.0"/>
<line x1="44.0" y1="338.86" x2="338.0" y2="338.86" stroke="#b8b8b8" stroke-width="1.0"/>
<line x1="44.0" y1="315.16" x2="338.0" y2="315.16" stroke="#b8b8b8" stroke-width="1.0"/>
<line x1="44.0" y1="291.45" x2="338.0" y2="291.45" stroke="#b8b8b8" stroke-width="1.0"/>
<line x1="60.33" y1="287.05" x2="60.33" y2="461.85" stroke="#b8b8b8" stroke-width="1.0"/>
<line x1="93.00" y1="287.05" x2="93.00" y2="461.85" stroke="#b8b8b8" stroke-width="1.0"/>
<line x1="125.67" y1="287.05" x2="125.67" y2="461.85" stroke="#b8b8b8" stroke-width="1.0"/>
<line x1="158.33" y1="287.05" x2="158.33" y2="461.85" stroke="#b8b8b8" stroke-width="1.0"/>
<line x1="191.00" y1="287.05" x2="191.00" y2="461.85" stroke="#b8b8b8" stroke-width="1.0"/>
<line x1="223.67" y1="287.05" x2="223.67" y2="461.85" stroke="#b8b8b8" stroke-width="1.0"/>
<line x1="256.33" y1="287.05" x2="256.33" y2="461.85" stroke="#b8b8b8" stroke-width="1.0"/>
<line x1="289.00" y1="287.05" x2="289.00" y2="461.85" stroke="#b8b8b8" stroke-width="1.0"/>
<line x1="321.67" y1="287.05" x2="321.67" y2="461.85" stroke="#b8b8b8" stroke-width="1.0"/>
<path d="M63.13,324.60 C63.25,325.37 63.57,327.65 63.83,329.20 C64.10,330.75 64.47,332.35 64.73,333.90 C65.00,335.45 65.20,336.97 65.43,338.50 C65.67,340.03 65.78,341.57 66.13,343.10 C66.48,344.63 66.97,346.17 67.53,347.70 C68.10,349.23 68.85,350.75 69.53,352.30 C70.22,353.85 71.05,355.45 71.63,357.00 C72.22,358.55 72.72,360.07 73.03,361.60 C73.35,363.13 73.55,364.70 73.53,366.20 C73.52,367.70 73.32,369.10 72.93,370.60 C72.55,372.10 71.80,373.65 71.23,375.20 C70.67,376.75 70.08,378.35 69.53,379.90 C68.98,381.45 68.43,382.97 67.93,384.50 C67.43,386.03 66.97,387.57 66.53,389.10 C66.10,390.63 65.72,392.17 65.33,393.70 C64.95,395.23 64.60,396.75 64.23,398.30 C63.87,399.85 63.43,401.45 63.13,403.00 C62.83,404.55 62.58,406.03 62.43,407.60 C62.28,409.17 62.27,411.60 62.23,412.40 L58.43,412.40 C58.40,411.60 58.38,409.17 58.23,407.60 C58.08,406.03 57.83,404.55 57.53,403.00 C57.23,401.45 56.80,399.85 56.43,398.30 C56.07,396.75 55.72,395.23 55.33,393.70 C54.95,392.17 54.57,390.63 54.13,389.10 C53.70,387.57 53.23,386.03 52.73,384.50 C52.23,382.97 51.68,381.45 51.13,379.90 C50.58,378.35 50.00,376.75 49.43,375.20 C48.87,373.65 48.12,372.10 47.73,370.60 C47.35,369.10 47.15,367.70 47.13,366.20 C47.12,364.70 47.32,363.13 47.63,361.60 C47.95,360.07 48.45,358.55 49.03,357.00 C49.62,355.45 50.45,353.85 51.13,352.30 C51.82,350.75 52.57,349.23 53.13,347.70 C53.70,346.17 54.18,344.63 54.53,343.10 C54.88,341.57 55.00,340.03 55.23,338.50 C55.47,336.97 55.67,335.45 55.93,333.90 C56.20,332.35 56.57,330.75 56.83,329.20 C57.10,327.65 57.42,325.37 57.53,324.60 Z" fill="#1f77b4" stroke="#363636" stroke-width="1.15" stroke-linejoin="round"/>
<line x1="60.33" y1="350.00" x2="60.33" y2="391.00" stroke="#363636" stroke-width="1.0"/>
<line x1="60.33" y1="361.10" x2="60.33" y2="377.10" stroke="#363636" stroke-width="2.7"/>
<circle cx="60.33" cy="364.50" r="0.6" fill="#fff"/>
<path d="M95.20,322.60 C95.35,323.37 95.72,325.65 96.10,327.20 C96.48,328.75 97.03,330.35 97.50,331.90 C97.97,333.45 98.43,334.97 98.90,336.50 C99.37,338.03 99.80,339.57 100.30,341.10 C100.80,342.63 101.40,344.17 101.90,345.70 C102.40,347.23 102.85,348.75 103.30,350.30 C103.75,351.85 104.23,353.45 104.60,355.00 C104.97,356.55 105.27,358.07 105.50,359.60 C105.73,361.13 105.93,362.80 106.00,364.20 C106.07,365.60 106.00,366.70 105.90,368.00 C105.80,369.30 105.58,370.67 105.40,372.00 C105.22,373.33 105.12,374.50 104.80,376.00 C104.48,377.50 103.97,379.33 103.50,381.00 C103.03,382.67 102.55,384.33 102.00,386.00 C101.45,387.67 100.78,389.33 100.20,391.00 C99.62,392.67 98.95,394.35 98.50,396.00 C98.05,397.65 97.75,399.25 97.50,400.90 C97.25,402.55 97.13,404.23 97.00,405.90 C96.87,407.57 96.78,409.32 96.70,410.90 C96.62,412.48 96.53,414.65 96.50,415.40 L89.50,415.40 C89.47,414.65 89.38,412.48 89.30,410.90 C89.22,409.32 89.13,407.57 89.00,405.90 C88.87,404.23 88.75,402.55 88.50,400.90 C88.25,399.25 87.95,397.65 87.50,396.00 C87.05,394.35 86.38,392.67 85.80,391.00 C85.22,389.33 84.55,387.67 84.00,386.00 C83.45,384.33 82.97,382.67 82.50,381.00 C82.03,379.33 81.52,377.50 81.20,376.00 C80.88,374.50 80.78,373.33 80.60,372.00 C80.42,370.67 80.20,369.30 80.10,368.00 C80.00,366.70 79.93,365.60 80.00,364.20 C80.07,362.80 80.27,361.13 80.50,359.60 C80.73,358.07 81.03,356.55 81.40,355.00 C81.77,353.45 82.25,351.85 82.70,350.30 C83.15,348.75 83.60,347.23 84.10,345.70 C84.60,344.17 85.20,342.63 85.70,341.10 C86.20,339.57 86.63,338.03 87.10,336.50 C87.57,334.97 88.03,333.45 88.50,331.90 C88.97,330.35 89.52,328.75 89.90,327.20 C90.28,325.65 90.65,323.37 90.80,322.60 Z" fill="#ff7f0e" stroke="#363636" stroke-width="1.15" stroke-linejoin="round"/>
<line x1="93.00" y1="322.60" x2="93.00" y2="415.40" stroke="#363636" stroke-width="1.0"/>
<line x1="93.00" y1="354.00" x2="93.00" y2="389.50" stroke="#363636" stroke-width="2.7"/>
<circle cx="93.00" cy="369.20" r="0.6" fill="#fff"/>
<path d="M129.27,297.70 C129.62,298.77 130.65,302.12 131.37,304.10 C132.08,306.08 132.87,307.75 133.57,309.60 C134.27,311.45 134.95,313.35 135.57,315.20 C136.18,317.05 136.82,318.85 137.27,320.70 C137.72,322.55 138.03,324.45 138.27,326.30 C138.50,328.15 138.60,329.95 138.67,331.80 C138.73,333.65 138.72,335.55 138.67,337.40 C138.62,339.25 138.55,341.05 138.37,342.90 C138.18,344.75 137.85,346.82 137.57,348.50 C137.28,350.18 137.08,351.83 136.67,353.00 C136.25,354.17 135.62,354.15 135.07,355.50 C134.52,356.85 133.93,359.25 133.37,361.10 C132.80,362.95 132.18,364.75 131.67,366.60 C131.15,368.45 130.68,370.35 130.27,372.20 C129.85,374.05 129.53,375.85 129.17,377.70 C128.80,379.55 128.38,381.45 128.07,383.30 C127.75,385.15 127.50,386.95 127.27,388.80 C127.03,390.65 126.85,392.87 126.67,394.40 C126.48,395.93 126.29,396.73 126.17,398.00 C126.04,399.27 125.95,396.17 125.92,402.00 C125.88,407.83 125.92,426.67 125.97,433.00 C126.01,439.33 126.09,437.83 126.17,440.00 C126.24,442.17 126.36,443.73 126.42,446.00 C126.48,448.27 126.50,452.33 126.52,453.60 L124.82,453.60 C124.83,452.33 124.86,448.27 124.92,446.00 C124.98,443.73 125.09,442.17 125.17,440.00 C125.24,437.83 125.33,439.33 125.37,433.00 C125.41,426.67 125.45,407.83 125.42,402.00 C125.38,396.17 125.29,399.27 125.17,398.00 C125.04,396.73 124.85,395.93 124.67,394.40 C124.48,392.87 124.30,390.65 124.07,388.80 C123.83,386.95 123.58,385.15 123.27,383.30 C122.95,381.45 122.53,379.55 122.17,377.70 C121.80,375.85 121.48,374.05 121.07,372.20 C120.65,370.35 120.18,368.45 119.67,366.60 C119.15,364.75 118.53,362.95 117.97,361.10 C117.40,359.25 116.82,356.85 116.27,355.50 C115.72,354.15 115.08,354.17 114.67,353.00 C114.25,351.83 114.05,350.18 113.77,348.50 C113.48,346.82 113.15,344.75 112.97,342.90 C112.78,341.05 112.72,339.25 112.67,337.40 C112.62,335.55 112.60,333.65 112.67,331.80 C112.73,329.95 112.83,328.15 113.07,326.30 C113.30,324.45 113.62,322.55 114.07,320.70 C114.52,318.85 115.15,317.05 115.77,315.20 C116.38,313.35 117.07,311.45 117.77,309.60 C118.47,307.75 119.25,306.08 119.97,304.10 C120.68,302.12 121.72,298.77 122.07,297.70 Z" fill="#2ca02c" stroke="#363636" stroke-width="1.15" stroke-linejoin="round"/>
<line x1="125.67" y1="297.70" x2="125.67" y2="375.70" stroke="#363636" stroke-width="1.0"/>
<line x1="125.67" y1="322.10" x2="125.67" y2="352.20" stroke="#363636" stroke-width="2.7"/>
<circle cx="125.67" cy="336.50" r="0.6" fill="#fff"/>
<path d="M162.38,295.50 C162.59,296.18 163.16,298.12 163.63,299.60 C164.11,301.08 164.75,302.80 165.23,304.40 C165.72,306.00 166.12,307.60 166.53,309.20 C166.95,310.80 167.33,312.40 167.73,314.00 C168.13,315.60 168.58,317.18 168.93,318.80 C169.28,320.42 169.58,322.08 169.83,323.70 C170.08,325.32 170.25,326.90 170.43,328.50 C170.62,330.10 170.80,331.70 170.93,333.30 C171.07,334.90 171.13,336.13 171.23,338.10 C171.33,340.07 171.47,343.08 171.53,345.10 C171.60,347.12 171.63,348.52 171.63,350.20 C171.63,351.88 171.62,353.52 171.53,355.20 C171.45,356.88 171.38,358.60 171.13,360.30 C170.88,362.00 170.47,363.70 170.03,365.40 C169.60,367.10 169.12,368.80 168.53,370.50 C167.95,372.20 167.17,373.90 166.53,375.60 C165.90,377.30 165.28,379.02 164.73,380.70 C164.18,382.38 163.63,384.10 163.23,385.70 C162.83,387.30 162.48,389.53 162.33,390.30 L154.33,390.30 C154.18,389.53 153.83,387.30 153.43,385.70 C153.03,384.10 152.48,382.38 151.93,380.70 C151.38,379.02 150.77,377.30 150.13,375.60 C149.50,373.90 148.72,372.20 148.13,370.50 C147.55,368.80 147.07,367.10 146.63,365.40 C146.20,363.70 145.78,362.00 145.53,360.30 C145.28,358.60 145.22,356.88 145.13,355.20 C145.05,353.52 145.03,351.88 145.03,350.20 C145.03,348.52 145.07,347.12 145.13,345.10 C145.20,343.08 145.33,340.07 145.43,338.10 C145.53,336.13 145.60,334.90 145.73,333.30 C145.87,331.70 146.05,330.10 146.23,328.50 C146.42,326.90 146.58,325.32 146.83,323.70 C147.08,322.08 147.38,320.42 147.73,318.80 C148.08,317.18 148.53,315.60 148.93,314.00 C149.33,312.40 149.72,310.80 150.13,309.20 C150.55,307.60 150.95,306.00 151.43,304.40 C151.92,302.80 152.56,301.08 153.03,299.60 C153.51,298.12 154.07,296.18 154.28,295.50 Z" fill="#d62728" stroke="#363636" stroke-width="1.15" stroke-linejoin="round"/>
<line x1="158.33" y1="295.50" x2="158.33" y2="390.30" stroke="#363636" stroke-width="1.0"/>
<line x1="158.33" y1="323.70" x2="158.33" y2="363.90" stroke="#363636" stroke-width="2.7"/>
<circle cx="158.33" cy="342.50" r="0.6" fill="#fff"/>
<path d="M192.20,296.50 C192.23,297.72 192.33,301.60 192.40,303.80 C192.47,306.00 192.50,307.72 192.60,309.70 C192.70,311.68 192.70,313.72 193.00,315.70 C193.30,317.68 193.87,319.63 194.40,321.60 C194.93,323.57 195.62,325.53 196.20,327.50 C196.78,329.47 197.35,331.43 197.90,333.40 C198.45,335.37 199.00,337.33 199.50,339.30 C200.00,341.27 200.47,343.22 200.90,345.20 C201.33,347.18 201.70,349.40 202.10,351.20 C202.50,353.00 202.98,354.52 203.30,356.00 C203.62,357.48 203.93,358.40 204.00,360.10 C204.07,361.80 203.95,364.17 203.70,366.20 C203.45,368.23 202.97,370.27 202.50,372.30 C202.03,374.33 201.40,376.37 200.90,378.40 C200.40,380.43 199.98,382.47 199.50,384.50 C199.02,386.53 198.52,388.57 198.00,390.60 C197.48,392.63 196.87,394.67 196.40,396.70 C195.93,398.73 195.60,400.77 195.20,402.80 C194.80,404.83 194.30,406.87 194.00,408.90 C193.70,410.93 193.50,413.98 193.40,415.00 L188.60,415.00 C188.50,413.98 188.30,410.93 188.00,408.90 C187.70,406.87 187.20,404.83 186.80,402.80 C186.40,400.77 186.07,398.73 185.60,396.70 C185.13,394.67 184.52,392.63 184.00,390.60 C183.48,388.57 182.98,386.53 182.50,384.50 C182.02,382.47 181.60,380.43 181.10,378.40 C180.60,376.37 179.97,374.33 179.50,372.30 C179.03,370.27 178.55,368.23 178.30,366.20 C178.05,364.17 177.93,361.80 178.00,360.10 C178.07,358.40 178.38,357.48 178.70,356.00 C179.02,354.52 179.50,353.00 179.90,351.20 C180.30,349.40 180.67,347.18 181.10,345.20 C181.53,343.22 182.00,341.27 182.50,339.30 C183.00,337.33 183.55,335.37 184.10,333.40 C184.65,331.43 185.22,329.47 185.80,327.50 C186.38,325.53 187.07,323.57 187.60,321.60 C188.13,319.63 188.70,317.68 189.00,315.70 C189.30,313.72 189.30,311.68 189.40,309.70 C189.50,307.72 189.53,306.00 189.60,303.80 C189.67,301.60 189.77,297.72 189.80,296.50 Z" fill="#9467bd" stroke="#363636" stroke-width="1.15" stroke-linejoin="round"/>
<line x1="191.00" y1="324.50" x2="191.00" y2="415.00" stroke="#363636" stroke-width="1.0"/>
<line x1="191.00" y1="348.20" x2="191.00" y2="377.20" stroke="#363636" stroke-width="2.7"/>
<circle cx="191.00" cy="364.00" r="0.6" fill="#fff"/>
<path d="M227.97,324.60 C228.37,325.37 229.60,327.65 230.37,329.20 C231.13,330.75 231.90,332.35 232.57,333.90 C233.23,335.45 233.83,336.97 234.37,338.50 C234.90,340.03 235.38,341.57 235.77,343.10 C236.15,344.63 236.48,346.17 236.67,347.70 C236.85,349.23 236.88,350.75 236.87,352.30 C236.85,353.85 236.75,355.45 236.57,357.00 C236.38,358.55 236.10,360.10 235.77,361.60 C235.43,363.10 235.02,364.47 234.57,366.00 C234.12,367.53 233.57,369.20 233.07,370.80 C232.57,372.40 232.03,374.00 231.57,375.60 C231.10,377.20 230.68,378.80 230.27,380.40 C229.85,382.00 229.47,383.60 229.07,385.20 C228.67,386.80 228.25,388.40 227.87,390.00 C227.48,391.60 227.12,393.18 226.77,394.80 C226.42,396.42 226.07,398.08 225.77,399.70 C225.47,401.32 225.13,402.90 224.97,404.50 C224.80,406.10 224.82,407.83 224.77,409.30 C224.72,410.77 224.68,412.63 224.67,413.30 L222.67,413.30 C222.65,412.63 222.62,410.77 222.57,409.30 C222.52,407.83 222.53,406.10 222.37,404.50 C222.20,402.90 221.87,401.32 221.57,399.70 C221.27,398.08 220.92,396.42 220.57,394.80 C220.22,393.18 219.85,391.60 219.47,390.00 C219.08,388.40 218.67,386.80 218.27,385.20 C217.87,383.60 217.48,382.00 217.07,380.40 C216.65,378.80 216.23,377.20 215.77,375.60 C215.30,374.00 214.77,372.40 214.27,370.80 C213.77,369.20 213.22,367.53 212.77,366.00 C212.32,364.47 211.90,363.10 211.57,361.60 C211.23,360.10 210.95,358.55 210.77,357.00 C210.58,355.45 210.48,353.85 210.47,352.30 C210.45,350.75 210.48,349.23 210.67,347.70 C210.85,346.17 211.18,344.63 211.57,343.10 C211.95,341.57 212.43,340.03 212.97,338.50 C213.50,336.97 214.10,335.45 214.77,333.90 C215.43,332.35 216.20,330.75 216.97,329.20 C217.73,327.65 218.97,325.37 219.37,324.60 Z" fill="#8c564b" stroke="#363636" stroke-width="1.15" stroke-linejoin="round"/>
<line x1="223.67" y1="324.60" x2="223.67" y2="388.60" stroke="#363636" stroke-width="1.0"/>
<line x1="223.67" y1="345.10" x2="223.67" y2="372.50" stroke="#363636" stroke-width="2.7"/>
<circle cx="223.67" cy="355.30" r="0.6" fill="#fff"/>
<path d="M257.33,360.80 C257.42,361.25 257.50,362.63 257.83,363.50 C258.17,364.37 258.50,365.15 259.33,366.00 C260.17,366.85 261.73,367.72 262.83,368.60 C263.93,369.48 265.03,370.40 265.93,371.30 C266.83,372.20 267.70,373.12 268.23,374.00 C268.77,374.88 269.07,375.85 269.13,376.60 C269.20,377.35 268.97,377.77 268.63,378.50 C268.30,379.23 267.48,380.08 267.13,381.00 C266.78,381.92 266.62,382.95 266.53,384.00 C266.45,385.05 266.80,386.30 266.63,387.30 C266.47,388.30 266.08,388.97 265.53,390.00 C264.98,391.03 263.95,392.50 263.33,393.50 C262.72,394.50 262.28,395.12 261.83,396.00 C261.38,396.88 261.00,397.88 260.63,398.80 C260.27,399.72 259.87,400.75 259.63,401.50 C259.40,402.25 259.30,403.00 259.23,403.30 L253.43,403.30 C253.37,403.00 253.27,402.25 253.03,401.50 C252.80,400.75 252.40,399.72 252.03,398.80 C251.67,397.88 251.28,396.88 250.83,396.00 C250.38,395.12 249.95,394.50 249.33,393.50 C248.72,392.50 247.68,391.03 247.13,390.00 C246.58,388.97 246.20,388.30 246.03,387.30 C245.87,386.30 246.22,385.05 246.13,384.00 C246.05,382.95 245.88,381.92 245.53,381.00 C245.18,380.08 244.37,379.23 244.03,378.50 C243.70,377.77 243.47,377.35 243.53,376.60 C243.60,375.85 243.90,374.88 244.43,374.00 C244.97,373.12 245.83,372.20 246.73,371.30 C247.63,370.40 248.73,369.48 249.83,368.60 C250.93,367.72 252.50,366.85 253.33,366.00 C254.17,365.15 254.50,364.37 254.83,363.50 C255.17,362.63 255.25,361.25 255.33,360.80 Z" fill="#e377c2" stroke="#363636" stroke-width="1.15" stroke-linejoin="round"/>
<line x1="256.33" y1="360.80" x2="256.33" y2="403.10" stroke="#363636" stroke-width="1.0"/>
<line x1="256.33" y1="375.20" x2="256.33" y2="390.10" stroke="#363636" stroke-width="2.7"/>
<circle cx="256.33" cy="379.40" r="0.6" fill="#fff"/>
<path d="M289.65,398.30 C289.68,399.32 289.71,402.53 289.85,404.40 C289.99,406.27 290.19,407.78 290.50,409.50 C290.81,411.22 291.10,413.15 291.70,414.70 C292.30,416.25 293.18,417.58 294.10,418.80 C295.02,420.02 296.17,420.95 297.20,422.00 C298.23,423.05 299.52,424.07 300.30,425.10 C301.08,426.13 301.85,427.17 301.90,428.20 C301.95,429.23 301.22,430.27 300.60,431.30 C299.98,432.33 298.85,433.37 298.20,434.40 C297.55,435.43 297.08,436.30 296.70,437.50 C296.32,438.70 296.08,440.13 295.90,441.60 C295.72,443.07 295.65,445.52 295.60,446.30 L282.40,446.30 C282.35,445.52 282.28,443.07 282.10,441.60 C281.92,440.13 281.68,438.70 281.30,437.50 C280.92,436.30 280.45,435.43 279.80,434.40 C279.15,433.37 278.02,432.33 277.40,431.30 C276.78,430.27 276.05,429.23 276.10,428.20 C276.15,427.17 276.92,426.13 277.70,425.10 C278.48,424.07 279.77,423.05 280.80,422.00 C281.83,420.95 282.98,420.02 283.90,418.80 C284.82,417.58 285.70,416.25 286.30,414.70 C286.90,413.15 287.19,411.22 287.50,409.50 C287.81,407.78 288.01,406.27 288.15,404.40 C288.29,402.53 288.32,399.32 288.35,398.30 Z" fill="#7f7f7f" stroke="#363636" stroke-width="1.15" stroke-linejoin="round"/>
<line x1="289.00" y1="398.30" x2="289.00" y2="446.30" stroke="#363636" stroke-width="1.0"/>
<line x1="289.00" y1="426.30" x2="289.00" y2="441.60" stroke="#363636" stroke-width="2.7"/>
<circle cx="289.00" cy="429.20" r="0.6" fill="#fff"/>
<path d="M328.27,361.50 C328.70,362.25 330.02,364.42 330.87,366.00 C331.72,367.58 332.75,369.33 333.37,371.00 C333.98,372.67 334.32,374.33 334.57,376.00 C334.82,377.67 334.87,379.35 334.87,381.00 C334.87,382.65 334.78,384.25 334.57,385.90 C334.35,387.55 333.93,389.23 333.57,390.90 C333.20,392.57 332.77,394.23 332.37,395.90 C331.97,397.57 331.53,399.30 331.17,400.90 C330.80,402.50 330.42,403.98 330.17,405.50 C329.92,407.02 329.82,408.42 329.67,410.00 C329.52,411.58 329.40,413.33 329.27,415.00 C329.13,416.67 329.02,418.33 328.87,420.00 C328.72,421.67 328.53,423.33 328.37,425.00 C328.20,426.67 328.07,428.35 327.87,430.00 C327.67,431.65 327.42,433.25 327.17,434.90 C326.92,436.55 326.67,438.23 326.37,439.90 C326.07,441.57 325.67,443.23 325.37,444.90 C325.07,446.57 324.73,448.70 324.57,449.90 C324.40,451.10 324.40,451.73 324.37,452.10 L318.97,452.10 C318.93,451.73 318.93,451.10 318.77,449.90 C318.60,448.70 318.27,446.57 317.97,444.90 C317.67,443.23 317.27,441.57 316.97,439.90 C316.67,438.23 316.42,436.55 316.17,434.90 C315.92,433.25 315.67,431.65 315.47,430.00 C315.27,428.35 315.13,426.67 314.97,425.00 C314.80,423.33 314.62,421.67 314.47,420.00 C314.32,418.33 314.20,416.67 314.07,415.00 C313.93,413.33 313.82,411.58 313.67,410.00 C313.52,408.42 313.42,407.02 313.17,405.50 C312.92,403.98 312.53,402.50 312.17,400.90 C311.80,399.30 311.37,397.57 310.97,395.90 C310.57,394.23 310.13,392.57 309.77,390.90 C309.40,389.23 308.98,387.55 308.77,385.90 C308.55,384.25 308.47,382.65 308.47,381.00 C308.47,379.35 308.52,377.67 308.77,376.00 C309.02,374.33 309.35,372.67 309.97,371.00 C310.58,369.33 311.62,367.58 312.47,366.00 C313.32,364.42 314.63,362.25 315.07,361.50 Z" fill="#bcbd22" stroke="#363636" stroke-width="1.15" stroke-linejoin="round"/>
<line x1="321.67" y1="361.50" x2="321.67" y2="452.10" stroke="#363636" stroke-width="1.0"/>
<line x1="321.67" y1="375.80" x2="321.67" y2="417.20" stroke="#363636" stroke-width="2.7"/>
<circle cx="321.67" cy="388.70" r="0.6" fill="#fff"/>
<rect x="44.0" y="287.55" width="294.0" height="173.8" fill="none" stroke="#262626" stroke-width="0.85"/>
<line x1="40.60" y1="457.40" x2="44.0" y2="457.40" stroke="#262626" stroke-width="0.85"/>
<text x="15.67" y="462.00" font-size="10.33" textLength="21.07" lengthAdjust="spacingAndGlyphs" fill="#1a1a1a" stroke="#1a1a1a" stroke-width="0.2">0.82</text>
<line x1="40.60" y1="433.69" x2="44.0" y2="433.69" stroke="#262626" stroke-width="0.85"/>
<text x="15.24" y="438.00" font-size="10.33" textLength="21.28" lengthAdjust="spacingAndGlyphs" fill="#1a1a1a" stroke="#1a1a1a" stroke-width="0.2">0.84</text>
<line x1="40.60" y1="409.99" x2="44.0" y2="409.99" stroke="#262626" stroke-width="0.85"/>
<text x="15.31" y="414.00" font-size="10.33" textLength="21.37" lengthAdjust="spacingAndGlyphs" fill="#1a1a1a" stroke="#1a1a1a" stroke-width="0.2">0.86</text>
<line x1="40.60" y1="386.28" x2="44.0" y2="386.28" stroke="#262626" stroke-width="0.85"/>
<text x="15.37" y="391.00" font-size="10.33" textLength="21.31" lengthAdjust="spacingAndGlyphs" fill="#1a1a1a" stroke="#1a1a1a" stroke-width="0.2">0.88</text>
<line x1="40.60" y1="362.57" x2="44.0" y2="362.57" stroke="#262626" stroke-width="0.85"/>
<text x="15.35" y="367.00" font-size="10.33" textLength="21.27" lengthAdjust="spacingAndGlyphs" fill="#1a1a1a" stroke="#1a1a1a" stroke-width="0.2">0.90</text>
<line x1="40.60" y1="338.86" x2="44.0" y2="338.86" stroke="#262626" stroke-width="0.85"/>
<text x="15.67" y="343.00" font-size="10.33" textLength="21.07" lengthAdjust="spacingAndGlyphs" fill="#1a1a1a" stroke="#1a1a1a" stroke-width="0.2">0.92</text>
<line x1="40.60" y1="315.16" x2="44.0" y2="315.16" stroke="#262626" stroke-width="0.85"/>
<text x="15.24" y="319.00" font-size="10.33" textLength="21.28" lengthAdjust="spacingAndGlyphs" fill="#1a1a1a" stroke="#1a1a1a" stroke-width="0.2">0.94</text>
<line x1="40.60" y1="291.45" x2="44.0" y2="291.45" stroke="#262626" stroke-width="0.85"/>
<text x="15.31" y="296.00" font-size="10.33" textLength="21.37" lengthAdjust="spacingAndGlyphs" fill="#1a1a1a" stroke="#1a1a1a" stroke-width="0.2">0.96</text>
<line x1="60.33" y1="461.35" x2="60.33" y2="464.75" stroke="#262626" stroke-width="0.85"/>
<text x="63.03" y="529.43" font-size="10.33" textLength="61.65" lengthAdjust="spacingAndGlyphs" fill="#1a1a1a" stroke="#1a1a1a" stroke-width="0.2" transform="rotate(-90 63.03 529.43)">Logistic Reg.</text>
<line x1="93.00" y1="461.35" x2="93.00" y2="464.75" stroke="#262626" stroke-width="0.85"/>
<text x="95.70" y="522.38" font-size="10.33" textLength="54.48" lengthAdjust="spacingAndGlyphs" fill="#1a1a1a" stroke="#1a1a1a" stroke-width="0.2" transform="rotate(-90 95.70 522.38)">Linear SVM</text>
<line x1="125.67" y1="461.35" x2="125.67" y2="464.75" stroke="#262626" stroke-width="0.85"/>
<text x="128.37" y="511.09" font-size="10.33" textLength="43.13" lengthAdjust="spacingAndGlyphs" fill="#1a1a1a" stroke="#1a1a1a" stroke-width="0.2" transform="rotate(-90 128.37 511.09)">RBF SVM</text>
<line x1="158.33" y1="461.35" x2="158.33" y2="464.75" stroke="#262626" stroke-width="0.85"/>
<text x="161.03" y="541.83" font-size="10.33" textLength="73.15" lengthAdjust="spacingAndGlyphs" fill="#1a1a1a" stroke="#1a1a1a" stroke-width="0.2" transform="rotate(-90 161.03 541.83)">Random Forest</text>
<line x1="191.00" y1="461.35" x2="191.00" y2="464.75" stroke="#262626" stroke-width="0.85"/>
<text x="193.70" y="487.97" font-size="10.33" textLength="19.72" lengthAdjust="spacingAndGlyphs" fill="#1a1a1a" stroke="#1a1a1a" stroke-width="0.2" transform="rotate(-90 193.70 487.97)">MLP</text>
<line x1="223.67" y1="461.35" x2="223.67" y2="464.75" stroke="#262626" stroke-width="0.85"/>
<text x="226.37" y="514.16" font-size="10.33" textLength="45.48" lengthAdjust="spacingAndGlyphs" fill="#1a1a1a" stroke="#1a1a1a" stroke-width="0.2" transform="rotate(-90 226.37 514.16)">Adaboost</text>
<line x1="256.33" y1="461.35" x2="256.33" y2="464.75" stroke="#262626" stroke-width="0.85"/>
<text x="259.03" y="528.55" font-size="10.33" textLength="60.19" lengthAdjust="spacingAndGlyphs" fill="#1a1a1a" stroke="#1a1a1a" stroke-width="0.2" transform="rotate(-90 259.03 528.55)">Naïve Bayes</text>
<line x1="289.00" y1="461.35" x2="289.00" y2="464.75" stroke="#262626" stroke-width="0.85"/>
<text x="291.70" y="490.28" font-size="10.33" textLength="21.55" lengthAdjust="spacingAndGlyphs" fill="#1a1a1a" stroke="#1a1a1a" stroke-width="0.2" transform="rotate(-90 291.70 490.28)">QDA</text>
<line x1="321.67" y1="461.35" x2="321.67" y2="464.75" stroke="#262626" stroke-width="0.85"/>
<text x="324.37" y="487.97" font-size="10.33" textLength="19.24" lengthAdjust="spacingAndGlyphs" fill="#1a1a1a" stroke="#1a1a1a" stroke-width="0.2" transform="rotate(-90 324.37 487.97)">LDA</text>
<text x="9.60" y="395.95" font-size="10.33" textLength="44.20" lengthAdjust="spacingAndGlyphs" fill="#1a1a1a" stroke="#1a1a1a" stroke-width="0.2" transform="rotate(-90 9.60 395.95)">Accuracy</text>
<text stroke="#000" stroke-width="0.45" x="-0.17" y="288.20" font-size="15.47" font-weight="bold" textLength="10.01" lengthAdjust="spacingAndGlyphs" fill="#000">C</text>
<text stroke="#000" stroke-width="0.45" x="11.68" y="287.40" font-size="15.47" font-weight="bold" textLength="5.27" lengthAdjust="spacingAndGlyphs" fill="#000">)</text>
<line x1="391.2" y1="452.40" x2="685.0" y2="452.40" stroke="#b8b8b8" stroke-width="1.0"/>
<line x1="391.2" y1="422.40" x2="685.0" y2="422.40" stroke="#b8b8b8" stroke-width="1.0"/>
<line x1="391.2" y1="392.40" x2="685.0" y2="392.40" stroke="#b8b8b8" stroke-width="1.0"/>
<line x1="391.2" y1="362.40" x2="685.0" y2="362.40" stroke="#b8b8b8" stroke-width="1.0"/>
<line x1="391.2" y1="332.40" x2="685.0" y2="332.40" stroke="#b8b8b8" stroke-width="1.0"/>
<line x1="391.2" y1="302.40" x2="685.0" y2="302.40" stroke="#b8b8b8" stroke-width="1.0"/>
<line x1="407.52" y1="287.05" x2="407.52" y2="461.85" stroke="#b8b8b8" stroke-width="1.0"/>
<line x1="440.17" y1="287.05" x2="440.17" y2="461.85" stroke="#b8b8b8" stroke-width="1.0"/>
<line x1="472.81" y1="287.05" x2="472.81" y2="461.85" stroke="#b8b8b8" stroke-width="1.0"/>
<line x1="505.46" y1="287.05" x2="505.46" y2="461.85" stroke="#b8b8b8" stroke-width="1.0"/>
<line x1="538.10" y1="287.05" x2="538.10" y2="461.85" stroke="#b8b8b8" stroke-width="1.0"/>
<line x1="570.74" y1="287.05" x2="570.74" y2="461.85" stroke="#b8b8b8" stroke-width="1.0"/>
<line x1="603.39" y1="287.05" x2="603.39" y2="461.85" stroke="#b8b8b8" stroke-width="1.0"/>
<line x1="636.03" y1="287.05" x2="636.03" y2="461.85" stroke="#b8b8b8" stroke-width="1.0"/>
<line x1="668.68" y1="287.05" x2="668.68" y2="461.85" stroke="#b8b8b8" stroke-width="1.0"/>
<path d="M410.52,324.40 C410.69,325.20 411.21,327.62 411.52,329.20 C411.84,330.78 412.16,332.35 412.42,333.90 C412.69,335.45 412.87,336.97 413.12,338.50 C413.37,340.03 413.57,341.57 413.92,343.10 C414.27,344.63 414.71,346.17 415.22,347.70 C415.74,349.23 416.37,350.75 417.02,352.30 C417.67,353.85 418.57,355.45 419.12,357.00 C419.67,358.55 420.04,360.07 420.32,361.60 C420.61,363.13 420.79,364.70 420.82,366.20 C420.86,367.70 420.76,369.10 420.52,370.60 C420.29,372.10 419.84,373.65 419.42,375.20 C419.01,376.75 418.52,378.35 418.02,379.90 C417.52,381.45 416.94,382.97 416.42,384.50 C415.91,386.03 415.42,387.57 414.92,389.10 C414.42,390.63 413.89,392.17 413.42,393.70 C412.96,395.23 412.54,396.75 412.12,398.30 C411.71,399.85 411.29,401.45 410.92,403.00 C410.56,404.55 410.14,406.37 409.92,407.60 C409.71,408.83 409.67,409.93 409.62,410.40 L405.42,410.40 C405.37,409.93 405.34,408.83 405.12,407.60 C404.91,406.37 404.49,404.55 404.12,403.00 C403.76,401.45 403.34,399.85 402.92,398.30 C402.51,396.75 402.09,395.23 401.62,393.70 C401.16,392.17 400.62,390.63 400.12,389.10 C399.62,387.57 399.14,386.03 398.62,384.50 C398.11,382.97 397.52,381.45 397.02,379.90 C396.52,378.35 396.04,376.75 395.62,375.20 C395.21,373.65 394.76,372.10 394.52,370.60 C394.29,369.10 394.19,367.70 394.22,366.20 C394.26,364.70 394.44,363.13 394.72,361.60 C395.01,360.07 395.37,358.55 395.92,357.00 C396.47,355.45 397.37,353.85 398.02,352.30 C398.67,350.75 399.31,349.23 399.82,347.70 C400.34,346.17 400.77,344.63 401.12,343.10 C401.47,341.57 401.67,340.03 401.92,338.50 C402.17,336.97 402.36,335.45 402.62,333.90 C402.89,332.35 403.21,330.78 403.52,329.20 C403.84,327.62 404.36,325.20 404.52,324.40 Z" fill="#1f77b4" stroke="#363636" stroke-width="1.15" stroke-linejoin="round"/>
<line x1="407.52" y1="335.20" x2="407.52" y2="389.80" stroke="#363636" stroke-width="1.0"/>
<line x1="407.52" y1="360.20" x2="407.52" y2="378.90" stroke="#363636" stroke-width="2.7"/>
<circle cx="407.52" cy="364.80" r="0.6" fill="#fff"/>
<path d="M442.42,323.60 C442.61,324.27 443.14,326.13 443.57,327.60 C443.99,329.07 444.48,330.80 444.97,332.40 C445.45,334.00 445.98,335.60 446.47,337.20 C446.95,338.80 447.38,340.40 447.87,342.00 C448.35,343.60 448.88,345.18 449.37,346.80 C449.85,348.42 450.33,350.08 450.77,351.70 C451.20,353.32 451.65,354.90 451.97,356.50 C452.28,358.10 452.45,359.70 452.67,361.30 C452.88,362.90 453.18,364.45 453.27,366.10 C453.35,367.75 453.32,369.48 453.17,371.20 C453.02,372.92 452.72,374.68 452.37,376.40 C452.02,378.12 451.55,379.78 451.07,381.50 C450.58,383.22 450.03,384.97 449.47,386.70 C448.90,388.43 448.22,390.17 447.67,391.90 C447.12,393.63 446.63,395.38 446.17,397.10 C445.70,398.82 445.22,400.48 444.87,402.20 C444.52,403.92 444.25,405.67 444.07,407.40 C443.88,409.13 443.85,410.78 443.77,412.60 C443.68,414.42 443.60,417.35 443.57,418.30 L436.77,418.30 C436.73,417.35 436.65,414.42 436.57,412.60 C436.48,410.78 436.45,409.13 436.27,407.40 C436.08,405.67 435.82,403.92 435.47,402.20 C435.12,400.48 434.63,398.82 434.17,397.10 C433.70,395.38 433.22,393.63 432.67,391.90 C432.12,390.17 431.43,388.43 430.87,386.70 C430.30,384.97 429.75,383.22 429.27,381.50 C428.78,379.78 428.32,378.12 427.97,376.40 C427.62,374.68 427.32,372.92 427.17,371.20 C427.02,369.48 426.98,367.75 427.07,366.10 C427.15,364.45 427.45,362.90 427.67,361.30 C427.88,359.70 428.05,358.10 428.37,356.50 C428.68,354.90 429.13,353.32 429.57,351.70 C430.00,350.08 430.48,348.42 430.97,346.80 C431.45,345.18 431.98,343.60 432.47,342.00 C432.95,340.40 433.38,338.80 433.87,337.20 C434.35,335.60 434.88,334.00 435.37,332.40 C435.85,330.80 436.34,329.07 436.77,327.60 C437.19,326.13 437.72,324.27 437.92,323.60 Z" fill="#ff7f0e" stroke="#363636" stroke-width="1.15" stroke-linejoin="round"/>
<line x1="440.17" y1="323.60" x2="440.17" y2="418.30" stroke="#363636" stroke-width="1.0"/>
<line x1="440.17" y1="353.40" x2="440.17" y2="389.60" stroke="#363636" stroke-width="2.7"/>
<circle cx="440.17" cy="370.30" r="0.6" fill="#fff"/>
<path d="M476.51,297.40 C476.88,298.52 478.01,302.07 478.71,304.10 C479.41,306.13 480.06,307.75 480.71,309.60 C481.36,311.45 482.04,313.35 482.61,315.20 C483.18,317.05 483.68,318.85 484.11,320.70 C484.54,322.55 484.96,324.45 485.21,326.30 C485.46,328.15 485.54,329.95 485.61,331.80 C485.68,333.65 485.68,335.55 485.61,337.40 C485.54,339.25 485.39,341.05 485.21,342.90 C485.03,344.75 484.76,346.82 484.51,348.50 C484.26,350.18 483.98,351.83 483.71,353.00 C483.44,354.17 483.33,354.15 482.91,355.50 C482.49,356.85 481.76,359.25 481.21,361.10 C480.66,362.95 480.11,364.75 479.61,366.60 C479.11,368.45 478.63,370.35 478.21,372.20 C477.79,374.05 477.48,375.85 477.11,377.70 C476.74,379.55 476.38,381.45 476.01,383.30 C475.64,385.15 475.23,386.95 474.91,388.80 C474.59,390.65 474.36,392.55 474.11,394.40 C473.86,396.25 473.58,398.13 473.41,399.90 C473.24,401.67 473.15,399.48 473.11,405.00 C473.07,410.52 473.13,427.17 473.16,433.00 C473.19,438.83 473.25,437.83 473.31,440.00 C473.37,442.17 473.45,443.73 473.51,446.00 C473.57,448.27 473.64,452.33 473.66,453.60 L471.96,453.60 C471.99,452.33 472.05,448.27 472.11,446.00 C472.17,443.73 472.25,442.17 472.31,440.00 C472.37,437.83 472.43,438.83 472.46,433.00 C472.49,427.17 472.55,410.52 472.51,405.00 C472.47,399.48 472.38,401.67 472.21,399.90 C472.04,398.13 471.76,396.25 471.51,394.40 C471.26,392.55 471.03,390.65 470.71,388.80 C470.39,386.95 469.98,385.15 469.61,383.30 C469.24,381.45 468.88,379.55 468.51,377.70 C468.14,375.85 467.83,374.05 467.41,372.20 C466.99,370.35 466.51,368.45 466.01,366.60 C465.51,364.75 464.96,362.95 464.41,361.10 C463.86,359.25 463.13,356.85 462.71,355.50 C462.29,354.15 462.18,354.17 461.91,353.00 C461.64,351.83 461.36,350.18 461.11,348.50 C460.86,346.82 460.59,344.75 460.41,342.90 C460.23,341.05 460.08,339.25 460.01,337.40 C459.94,335.55 459.94,333.65 460.01,331.80 C460.08,329.95 460.16,328.15 460.41,326.30 C460.66,324.45 461.08,322.55 461.51,320.70 C461.94,318.85 462.44,317.05 463.01,315.20 C463.58,313.35 464.26,311.45 464.91,309.60 C465.56,307.75 466.21,306.13 466.91,304.10 C467.61,302.07 468.74,298.52 469.11,297.40 Z" fill="#2ca02c" stroke="#363636" stroke-width="1.15" stroke-linejoin="round"/>
<line x1="472.81" y1="297.40" x2="472.81" y2="379.70" stroke="#363636" stroke-width="1.0"/>
<line x1="472.81" y1="323.20" x2="472.81" y2="354.70" stroke="#363636" stroke-width="2.7"/>
<circle cx="472.81" cy="337.40" r="0.6" fill="#fff"/>
<path d="M509.66,295.50 C509.77,296.25 510.07,298.42 510.36,300.00 C510.64,301.58 511.02,303.33 511.36,305.00 C511.69,306.67 511.97,308.33 512.36,310.00 C512.74,311.67 513.19,313.35 513.66,315.00 C514.12,316.65 514.71,318.25 515.16,319.90 C515.61,321.55 515.99,323.23 516.36,324.90 C516.72,326.57 517.09,328.23 517.36,329.90 C517.62,331.57 517.76,333.22 517.96,334.90 C518.16,336.58 518.39,338.28 518.56,340.00 C518.72,341.72 518.89,343.47 518.96,345.20 C519.02,346.93 518.96,348.68 518.96,350.40 C518.96,352.12 518.99,353.78 518.96,355.50 C518.92,357.22 518.96,358.97 518.76,360.70 C518.56,362.43 518.21,364.17 517.76,365.90 C517.31,367.63 516.67,369.38 516.06,371.10 C515.44,372.82 514.69,374.48 514.06,376.20 C513.42,377.92 512.82,379.67 512.26,381.40 C511.69,383.13 511.12,384.83 510.66,386.60 C510.19,388.37 509.66,391.10 509.46,392.00 L501.46,392.00 C501.26,391.10 500.72,388.37 500.26,386.60 C499.79,384.83 499.22,383.13 498.66,381.40 C498.09,379.67 497.49,377.92 496.86,376.20 C496.22,374.48 495.47,372.82 494.86,371.10 C494.24,369.38 493.61,367.63 493.16,365.90 C492.71,364.17 492.36,362.43 492.16,360.70 C491.96,358.97 491.99,357.22 491.96,355.50 C491.92,353.78 491.96,352.12 491.96,350.40 C491.96,348.68 491.89,346.93 491.96,345.20 C492.02,343.47 492.19,341.72 492.36,340.00 C492.52,338.28 492.76,336.58 492.96,334.90 C493.16,333.22 493.29,331.57 493.56,329.90 C493.82,328.23 494.19,326.57 494.56,324.90 C494.92,323.23 495.31,321.55 495.76,319.90 C496.21,318.25 496.79,316.65 497.26,315.00 C497.72,313.35 498.17,311.67 498.56,310.00 C498.94,308.33 499.22,306.67 499.56,305.00 C499.89,303.33 500.27,301.58 500.56,300.00 C500.84,298.42 501.14,296.25 501.26,295.50 Z" fill="#d62728" stroke="#363636" stroke-width="1.15" stroke-linejoin="round"/>
<line x1="505.46" y1="295.50" x2="505.46" y2="392.00" stroke="#363636" stroke-width="1.0"/>
<line x1="505.46" y1="324.70" x2="505.46" y2="364.30" stroke="#363636" stroke-width="2.7"/>
<circle cx="505.46" cy="343.60" r="0.6" fill="#fff"/>
<path d="M539.40,296.70 C539.42,297.88 539.43,301.63 539.50,303.80 C539.57,305.97 539.67,307.72 539.80,309.70 C539.93,311.68 539.97,313.72 540.30,315.70 C540.63,317.68 541.28,319.63 541.80,321.60 C542.32,323.57 542.87,325.53 543.40,327.50 C543.93,329.47 544.47,331.43 545.00,333.40 C545.53,335.37 546.08,337.33 546.60,339.30 C547.12,341.27 547.62,343.22 548.10,345.20 C548.58,347.18 549.08,349.40 549.50,351.20 C549.92,353.00 550.27,354.45 550.60,356.00 C550.93,357.55 551.35,358.68 551.50,360.50 C551.65,362.32 551.70,364.75 551.50,366.90 C551.30,369.05 550.77,371.23 550.30,373.40 C549.83,375.57 549.25,377.75 548.70,379.90 C548.15,382.05 547.50,384.15 547.00,386.30 C546.50,388.45 546.13,390.63 545.70,392.80 C545.27,394.97 544.83,397.13 544.40,399.30 C543.97,401.47 543.48,403.65 543.10,405.80 C542.72,407.95 542.35,409.95 542.10,412.20 C541.85,414.45 541.68,418.12 541.60,419.30 L534.60,419.30 C534.52,418.12 534.35,414.45 534.10,412.20 C533.85,409.95 533.48,407.95 533.10,405.80 C532.72,403.65 532.23,401.47 531.80,399.30 C531.37,397.13 530.93,394.97 530.50,392.80 C530.07,390.63 529.70,388.45 529.20,386.30 C528.70,384.15 528.05,382.05 527.50,379.90 C526.95,377.75 526.37,375.57 525.90,373.40 C525.43,371.23 524.90,369.05 524.70,366.90 C524.50,364.75 524.55,362.32 524.70,360.50 C524.85,358.68 525.27,357.55 525.60,356.00 C525.93,354.45 526.28,353.00 526.70,351.20 C527.12,349.40 527.62,347.18 528.10,345.20 C528.58,343.22 529.08,341.27 529.60,339.30 C530.12,337.33 530.67,335.37 531.20,333.40 C531.73,331.43 532.27,329.47 532.80,327.50 C533.33,325.53 533.88,323.57 534.40,321.60 C534.92,319.63 535.57,317.68 535.90,315.70 C536.23,313.72 536.27,311.68 536.40,309.70 C536.53,307.72 536.63,305.97 536.70,303.80 C536.77,301.63 536.78,297.88 536.80,296.70 Z" fill="#9467bd" stroke="#363636" stroke-width="1.15" stroke-linejoin="round"/>
<line x1="538.10" y1="326.30" x2="538.10" y2="419.30" stroke="#363636" stroke-width="1.0"/>
<line x1="538.10" y1="351.70" x2="538.10" y2="382.50" stroke="#363636" stroke-width="2.7"/>
<circle cx="538.10" cy="366.30" r="0.6" fill="#fff"/>
<path d="M575.24,326.40 C575.71,327.20 577.16,329.62 578.04,331.20 C578.93,332.78 579.83,334.35 580.54,335.90 C581.26,337.45 581.84,338.97 582.34,340.50 C582.84,342.03 583.26,343.57 583.54,345.10 C583.83,346.63 583.96,348.17 584.04,349.70 C584.13,351.23 584.13,352.75 584.04,354.30 C583.96,355.85 583.78,357.45 583.54,359.00 C583.31,360.55 583.01,362.10 582.64,363.60 C582.28,365.10 581.81,366.47 581.34,368.00 C580.88,369.53 580.29,371.20 579.84,372.80 C579.39,374.40 579.06,376.00 578.64,377.60 C578.23,379.20 577.71,380.80 577.34,382.40 C576.98,384.00 576.76,385.60 576.44,387.20 C576.13,388.80 575.77,390.40 575.44,392.00 C575.12,393.60 574.84,395.18 574.49,396.80 C574.14,398.42 573.70,400.08 573.34,401.70 C572.99,403.32 572.59,404.90 572.34,406.50 C572.10,408.10 571.99,409.70 571.89,411.30 C571.80,412.90 571.81,415.30 571.79,416.10 L569.69,416.10 C569.68,415.30 569.69,412.90 569.59,411.30 C569.50,409.70 569.39,408.10 569.14,406.50 C568.90,404.90 568.50,403.32 568.14,401.70 C567.79,400.08 567.34,398.42 566.99,396.80 C566.64,395.18 566.37,393.60 566.04,392.00 C565.72,390.40 565.36,388.80 565.04,387.20 C564.73,385.60 564.51,384.00 564.14,382.40 C563.78,380.80 563.26,379.20 562.84,377.60 C562.43,376.00 562.09,374.40 561.64,372.80 C561.19,371.20 560.61,369.53 560.14,368.00 C559.68,366.47 559.21,365.10 558.84,363.60 C558.48,362.10 558.18,360.55 557.94,359.00 C557.71,357.45 557.53,355.85 557.44,354.30 C557.36,352.75 557.36,351.23 557.44,349.70 C557.53,348.17 557.66,346.63 557.94,345.10 C558.23,343.57 558.64,342.03 559.14,340.50 C559.64,338.97 560.23,337.45 560.94,335.90 C561.66,334.35 562.56,332.78 563.44,331.20 C564.33,329.62 565.78,327.20 566.24,326.40 Z" fill="#8c564b" stroke="#363636" stroke-width="1.15" stroke-linejoin="round"/>
<line x1="570.74" y1="326.40" x2="570.74" y2="393.50" stroke="#363636" stroke-width="1.0"/>
<line x1="570.74" y1="348.30" x2="570.74" y2="375.50" stroke="#363636" stroke-width="2.7"/>
<circle cx="570.74" cy="356.70" r="0.6" fill="#fff"/>
<path d="M604.59,358.30 C604.64,358.63 604.72,359.67 604.89,360.30 C605.06,360.93 605.02,361.35 605.59,362.10 C606.16,362.85 607.26,363.92 608.29,364.80 C609.32,365.68 610.69,366.52 611.79,367.40 C612.89,368.28 614.16,369.22 614.89,370.10 C615.62,370.98 616.04,371.82 616.19,372.70 C616.34,373.58 616.11,374.50 615.79,375.40 C615.47,376.30 614.67,377.22 614.29,378.10 C613.91,378.98 613.59,379.82 613.49,380.70 C613.39,381.58 613.72,382.50 613.69,383.40 C613.66,384.30 613.61,385.22 613.29,386.10 C612.97,386.98 612.41,387.82 611.79,388.70 C611.17,389.58 610.26,390.52 609.59,391.40 C608.92,392.28 608.24,393.12 607.79,394.00 C607.34,394.88 607.09,395.92 606.89,396.70 C606.69,397.48 606.66,398.05 606.59,398.70 C606.52,399.35 606.51,400.28 606.49,400.60 L600.29,400.60 C600.27,400.28 600.26,399.35 600.19,398.70 C600.12,398.05 600.09,397.48 599.89,396.70 C599.69,395.92 599.44,394.88 598.99,394.00 C598.54,393.12 597.86,392.28 597.19,391.40 C596.52,390.52 595.61,389.58 594.99,388.70 C594.37,387.82 593.81,386.98 593.49,386.10 C593.17,385.22 593.12,384.30 593.09,383.40 C593.06,382.50 593.39,381.58 593.29,380.70 C593.19,379.82 592.87,378.98 592.49,378.10 C592.11,377.22 591.31,376.30 590.99,375.40 C590.67,374.50 590.44,373.58 590.59,372.70 C590.74,371.82 591.16,370.98 591.89,370.10 C592.62,369.22 593.89,368.28 594.99,367.40 C596.09,366.52 597.46,365.68 598.49,364.80 C599.52,363.92 600.62,362.85 601.19,362.10 C601.76,361.35 601.72,360.93 601.89,360.30 C602.06,359.67 602.14,358.63 602.19,358.30 Z" fill="#e377c2" stroke="#363636" stroke-width="1.15" stroke-linejoin="round"/>
<line x1="603.39" y1="358.30" x2="603.39" y2="400.60" stroke="#363636" stroke-width="1.0"/>
<line x1="603.39" y1="372.10" x2="603.39" y2="387.80" stroke="#363636" stroke-width="2.7"/>
<circle cx="603.39" cy="375.30" r="0.6" fill="#fff"/>
<path d="M636.73,394.60 C636.78,395.43 636.90,397.97 637.03,399.60 C637.17,401.23 637.30,402.80 637.53,404.40 C637.77,406.00 637.92,407.75 638.43,409.20 C638.95,410.65 639.75,411.97 640.63,413.10 C641.52,414.23 642.65,415.05 643.73,416.00 C644.82,416.95 646.25,417.68 647.13,418.80 C648.02,419.92 648.88,421.57 649.03,422.70 C649.18,423.83 648.62,424.63 648.03,425.60 C647.45,426.57 646.25,427.55 645.53,428.50 C644.82,429.45 644.12,430.18 643.73,431.30 C643.35,432.42 643.35,434.07 643.23,435.20 C643.12,436.33 643.07,437.62 643.03,438.10 L629.03,438.10 C629.00,437.62 628.95,436.33 628.83,435.20 C628.72,434.07 628.72,432.42 628.33,431.30 C627.95,430.18 627.25,429.45 626.53,428.50 C625.82,427.55 624.62,426.57 624.03,425.60 C623.45,424.63 622.88,423.83 623.03,422.70 C623.18,421.57 624.05,419.92 624.93,418.80 C625.82,417.68 627.25,416.95 628.33,416.00 C629.42,415.05 630.55,414.23 631.43,413.10 C632.32,411.97 633.12,410.65 633.63,409.20 C634.15,407.75 634.30,406.00 634.53,404.40 C634.77,402.80 634.90,401.23 635.03,399.60 C635.17,397.97 635.28,395.43 635.33,394.60 Z" fill="#7f7f7f" stroke="#363636" stroke-width="1.15" stroke-linejoin="round"/>
<line x1="636.03" y1="394.60" x2="636.03" y2="438.10" stroke="#363636" stroke-width="1.0"/>
<line x1="636.03" y1="421.50" x2="636.03" y2="435.20" stroke="#363636" stroke-width="2.7"/>
<circle cx="636.03" cy="423.70" r="0.6" fill="#fff"/>
<path d="M675.98,361.30 C676.41,362.02 677.83,364.08 678.58,365.60 C679.33,367.12 679.94,368.80 680.48,370.40 C681.01,372.00 681.51,373.60 681.78,375.20 C682.04,376.80 682.06,378.40 682.08,380.00 C682.09,381.60 682.03,383.18 681.88,384.80 C681.73,386.42 681.46,388.08 681.18,389.70 C680.89,391.32 680.53,392.90 680.18,394.50 C679.83,396.10 679.46,397.72 679.08,399.30 C678.69,400.88 678.23,402.38 677.88,404.00 C677.53,405.62 677.26,407.33 676.98,409.00 C676.69,410.67 676.43,412.33 676.18,414.00 C675.93,415.67 675.69,417.33 675.48,419.00 C675.26,420.67 675.09,422.33 674.88,424.00 C674.66,425.67 674.41,427.33 674.18,429.00 C673.94,430.67 673.73,432.35 673.48,434.00 C673.23,435.65 672.93,437.25 672.68,438.90 C672.43,440.55 672.21,442.23 671.98,443.90 C671.74,445.57 671.43,447.70 671.28,448.90 C671.13,450.10 671.11,450.73 671.08,451.10 L666.28,451.10 C666.24,450.73 666.23,450.10 666.08,448.90 C665.93,447.70 665.61,445.57 665.38,443.90 C665.14,442.23 664.93,440.55 664.68,438.90 C664.43,437.25 664.13,435.65 663.88,434.00 C663.63,432.35 663.41,430.67 663.18,429.00 C662.94,427.33 662.69,425.67 662.48,424.00 C662.26,422.33 662.09,420.67 661.88,419.00 C661.66,417.33 661.43,415.67 661.18,414.00 C660.93,412.33 660.66,410.67 660.38,409.00 C660.09,407.33 659.83,405.62 659.48,404.00 C659.13,402.38 658.66,400.88 658.28,399.30 C657.89,397.72 657.53,396.10 657.18,394.50 C656.83,392.90 656.46,391.32 656.18,389.70 C655.89,388.08 655.63,386.42 655.48,384.80 C655.33,383.18 655.26,381.60 655.28,380.00 C655.29,378.40 655.31,376.80 655.58,375.20 C655.84,373.60 656.34,372.00 656.88,370.40 C657.41,368.80 658.03,367.12 658.78,365.60 C659.53,364.08 660.94,362.02 661.38,361.30 Z" fill="#bcbd22" stroke="#363636" stroke-width="1.15" stroke-linejoin="round"/>
<line x1="668.68" y1="361.30" x2="668.68" y2="451.10" stroke="#363636" stroke-width="1.0"/>
<line x1="668.68" y1="373.80" x2="668.68" y2="417.50" stroke="#363636" stroke-width="2.7"/>
<circle cx="668.68" cy="388.70" r="0.6" fill="#fff"/>
<rect x="391.2" y="287.55" width="293.8" height="173.8" fill="none" stroke="#262626" stroke-width="0.85"/>
<line x1="387.80" y1="452.40" x2="391.2" y2="452.40" stroke="#262626" stroke-width="0.85"/>
<text x="362.76" y="457.00" font-size="10.33" textLength="21.09" lengthAdjust="spacingAndGlyphs" fill="#1a1a1a" stroke="#1a1a1a" stroke-width="0.2">0.65</text>
<line x1="387.80" y1="422.40" x2="391.2" y2="422.40" stroke="#262626" stroke-width="0.85"/>
<text x="362.55" y="427.00" font-size="10.33" textLength="21.27" lengthAdjust="spacingAndGlyphs" fill="#1a1a1a" stroke="#1a1a1a" stroke-width="0.2">0.70</text>
<line x1="387.80" y1="392.40" x2="391.2" y2="392.40" stroke="#262626" stroke-width="0.85"/>
<text x="362.76" y="397.00" font-size="10.33" textLength="21.09" lengthAdjust="spacingAndGlyphs" fill="#1a1a1a" stroke="#1a1a1a" stroke-width="0.2">0.75</text>
<line x1="387.80" y1="362.40" x2="391.2" y2="362.40" stroke="#262626" stroke-width="0.85"/>
<text x="362.55" y="367.00" font-size="10.33" textLength="21.27" lengthAdjust="spacingAndGlyphs" fill="#1a1a1a" stroke="#1a1a1a" stroke-width="0.2">0.80</text>
<line x1="387.80" y1="332.40" x2="391.2" y2="332.40" stroke="#262626" stroke-width="0.85"/>
<text x="362.76" y="337.00" font-size="10.33" textLength="21.09" lengthAdjust="spacingAndGlyphs" fill="#1a1a1a" stroke="#1a1a1a" stroke-width="0.2">0.85</text>
<line x1="387.80" y1="302.40" x2="391.2" y2="302.40" stroke="#262626" stroke-width="0.85"/>
<text x="362.55" y="307.00" font-size="10.33" textLength="21.27" lengthAdjust="spacingAndGlyphs" fill="#1a1a1a" stroke="#1a1a1a" stroke-width="0.2">0.90</text>
<line x1="407.52" y1="461.35" x2="407.52" y2="464.75" stroke="#262626" stroke-width="0.85"/>
<text x="410.22" y="529.43" font-size="10.33" textLength="61.65" lengthAdjust="spacingAndGlyphs" fill="#1a1a1a" stroke="#1a1a1a" stroke-width="0.2" transform="rotate(-90 410.22 529.43)">Logistic Reg.</text>
<line x1="440.17" y1="461.35" x2="440.17" y2="464.75" stroke="#262626" stroke-width="0.85"/>
<text x="442.87" y="522.38" font-size="10.33" textLength="54.48" lengthAdjust="spacingAndGlyphs" fill="#1a1a1a" stroke="#1a1a1a" stroke-width="0.2" transform="rotate(-90 442.87 522.38)">Linear SVM</text>
<line x1="472.81" y1="461.35" x2="472.81" y2="464.75" stroke="#262626" stroke-width="0.85"/>
<text x="475.51" y="511.09" font-size="10.33" textLength="43.13" lengthAdjust="spacingAndGlyphs" fill="#1a1a1a" stroke="#1a1a1a" stroke-width="0.2" transform="rotate(-90 475.51 511.09)">RBF SVM</text>
<line x1="505.46" y1="461.35" x2="505.46" y2="464.75" stroke="#262626" stroke-width="0.85"/>
<text x="508.16" y="541.83" font-size="10.33" textLength="73.15" lengthAdjust="spacingAndGlyphs" fill="#1a1a1a" stroke="#1a1a1a" stroke-width="0.2" transform="rotate(-90 508.16 541.83)">Random Forest</text>
<line x1="538.10" y1="461.35" x2="538.10" y2="464.75" stroke="#262626" stroke-width="0.85"/>
<text x="540.80" y="487.97" font-size="10.33" textLength="19.72" lengthAdjust="spacingAndGlyphs" fill="#1a1a1a" stroke="#1a1a1a" stroke-width="0.2" transform="rotate(-90 540.80 487.97)">MLP</text>
<line x1="570.74" y1="461.35" x2="570.74" y2="464.75" stroke="#262626" stroke-width="0.85"/>
<text x="573.44" y="514.16" font-size="10.33" textLength="45.48" lengthAdjust="spacingAndGlyphs" fill="#1a1a1a" stroke="#1a1a1a" stroke-width="0.2" transform="rotate(-90 573.44 514.16)">Adaboost</text>
<line x1="603.39" y1="461.35" x2="603.39" y2="464.75" stroke="#262626" stroke-width="0.85"/>
<text x="606.09" y="528.55" font-size="10.33" textLength="60.19" lengthAdjust="spacingAndGlyphs" fill="#1a1a1a" stroke="#1a1a1a" stroke-width="0.2" transform="rotate(-90 606.09 528.55)">Naïve Bayes</text>
<line x1="636.03" y1="461.35" x2="636.03" y2="464.75" stroke="#262626" stroke-width="0.85"/>
<text x="638.73" y="490.28" font-size="10.33" textLength="21.55" lengthAdjust="spacingAndGlyphs" fill="#1a1a1a" stroke="#1a1a1a" stroke-width="0.2" transform="rotate(-90 638.73 490.28)">QDA</text>
<line x1="668.68" y1="461.35" x2="668.68" y2="464.75" stroke="#262626" stroke-width="0.85"/>
<text x="671.38" y="487.97" font-size="10.33" textLength="19.24" lengthAdjust="spacingAndGlyphs" fill="#1a1a1a" stroke="#1a1a1a" stroke-width="0.2" transform="rotate(-90 671.38 487.97)">LDA</text>
<text x="356.80" y="425.32" font-size="10.33" textLength="102.89" lengthAdjust="spacingAndGlyphs" fill="#1a1a1a" stroke="#1a1a1a" stroke-width="0.2" transform="rotate(-90 356.80 425.32)">Cohen&#39;s Kappa Score</text>
<text stroke="#000" stroke-width="0.45" x="346.92" y="288.20" font-size="15.47" font-weight="bold" textLength="11.78" lengthAdjust="spacingAndGlyphs" fill="#000">D</text>
<text stroke="#000" stroke-width="0.45" x="360.58" y="287.40" font-size="15.47" font-weight="bold" textLength="5.27" lengthAdjust="spacingAndGlyphs" fill="#000">)</text>
</svg>
</body></html>
